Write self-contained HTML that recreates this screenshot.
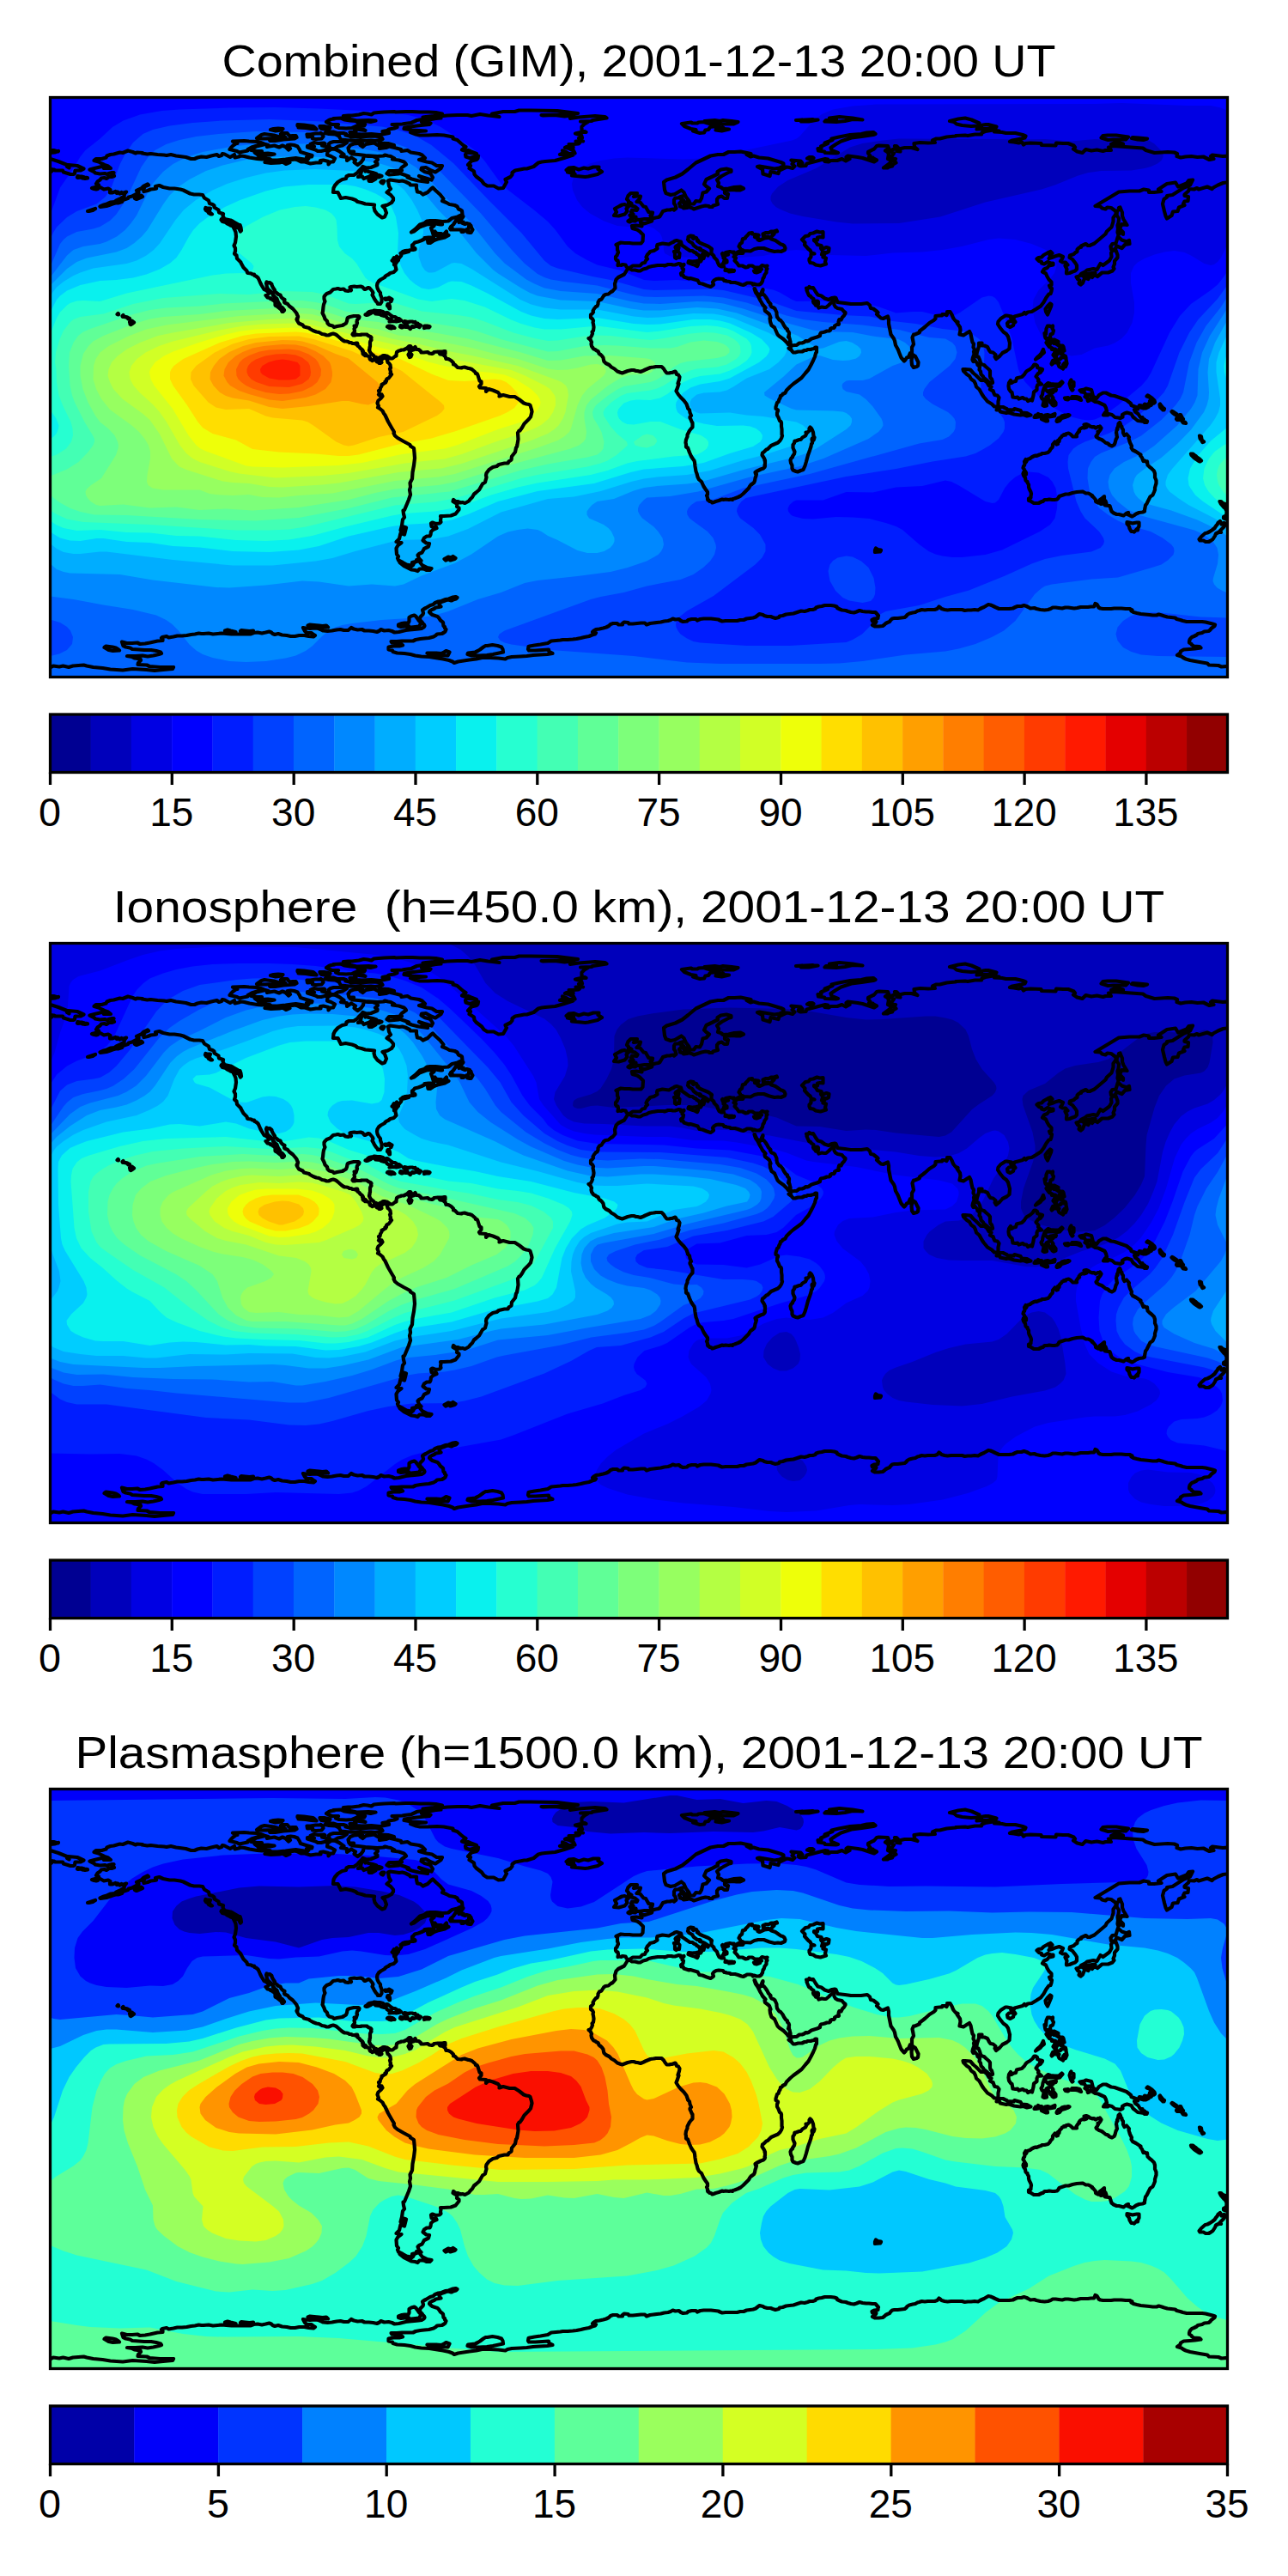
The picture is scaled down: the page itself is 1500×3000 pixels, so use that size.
<!DOCTYPE html>
<html><head><meta charset="utf-8"><title>TEC maps</title>
<style>
html,body{margin:0;padding:0;background:#fff}
svg{display:block}
text{font-family:"Liberation Sans",sans-serif;fill:#000}
.t{font-size:52px;white-space:pre}
.k{font-size:45.5px}
.c{fill:none;stroke:#000;stroke-width:4.2;stroke-linejoin:round;stroke-linecap:round}
.f{fill:none;stroke:#000;stroke-width:3.3;stroke-linejoin:miter}
.tk{stroke:#000;stroke-width:3.3;fill:none}
</style></head><body>
<svg width="1500" height="3000" viewBox="0 0 1500 3000">
<rect width="1500" height="3000" fill="#fff"/>
<defs>
<clipPath id="mc"><rect x="58.5" y="0" width="1371.0" height="675.0"/></clipPath>
<g id="coast" class="c">
<path d="M104.5 84l5.5-1.5 8.5-2 3 0-0.5 2 8 0-3-2.5-4.5-1.5-3-1.5-3.5-2-5.5-1.5 2.5-2 6.5 0 5-1.5 1-2 4-1.5 4-0.5 7-2 3.5 0.5 6-2.5 5.5 1.5 3.5 1.5 1.5-1 6.5 0.5-0.5 0.5 6 1 4-0.5 8 1 7.5 0.5 3 0.5 5-1 6 1.5 4 0.5 7.5 1 6 2 4 0 3.5-1.5 4.5-1 6 0.5 5.5-1.5 6.5-1.5 2.5 2 3-1 1-2 2.5 0.5 6.5 3.5 5-3 0.5 3.5 4.5-1 2-1 4.5 0.5 6 1.5 9 1.5 5.5 0.5 4-0.5 5 2-5.5 2 7 1 10-0.5 3.5-1 4 2.5 4.5-2-4-1.5 2.5-1.5 4.5 0 3-0.5 3.5 1 4 2 4 0 6.5 2 6.5-1 5.5 0-0.5-2.5 3.5-0.5 6 1.5 0 3.5 2.5-3 3 0 2-4-4.5-2.5-4.5-1.5 0.5-4 4.5-3 5 0.5 4 2 5.5 4-3.5 2 7 1 0 4 5-3.5 5 3-1.5 2.5 4 3 4-3 2.5-3.5 0.5-4 5.5 0.5 5.5 0 5 2 0.5 2-3 2.5 2.5 2 0 1.5-7.5 3-5.5 0.5-4-1.5-1.5 2-3.5 3.5-1 1.5-4.5 3-5.5 0-3 1.5-0.5 2.5-4.5 1-5 3-3.5 4-1.5 3-0.5 5 5.5 0 2 4 1.5 3 5.5-1 7.5 1.5 4 1.5 2.5 2 4.5 1 4.5 1.5 6 0.5 4.5 0.5-0.5 3 1 4 3 4 5.5 4 3-1 2-4.5-2-5.5-2.5-2.5 6-1.5 4.5-2.5 2-3 0-2.5-3-3.5-4.5-3 4.5-4-2-3.5-1-6 2.5-1 7 1 3.5 0.5 3.5-0.5 3.5 1 5 2.5 1 1.5 7 0 0 3.5 1 4.5 3.5 0.5 3 2.5 5.5-2.5 4-4 2-1.5 3.5 3.5 5 4.5 4 5-1.5 2.5 5 2 3.5 2 6 1 3 1.5 1.5 3 2.5 1 1.5 1 0.5 4.5-2.5 1-3 1.5-6.5 1.5-4.5 3.5-6.5 0.5-8.5-1-6 0-4 0.5-3 2.5-5 1.5-5.5 5.5-4.5 3.5 3-1 6.5-5 8-3 5.5-0.5 3.5 2-3.5 2.5 1.5 4 1 3.5 5 1.5 6.5-0.5 4-4.5 0 3 2.5 1.5-4.5 2.5-8.5 2-4 1.5-4.5 3-2.5 0-0.5-3.5 7-3-6 0-4.5 0.5 0.5 1-4 2-4 1.5-4 1-2 2.5-1 0.5 0 2.5 1.5 2 1.5 0-0.5-1.5 1 1 0 1-2.5 0.5-2 0-3 0.5-4 0.5-3 1 6-0.5 1 0.5-5.5 1.5-2.5 0 0-0.5-1.5 1 1.5 0-1 3-2.5 3-0.5-1-1 0-1-1.5 1 2 0.5 1 0.5 1.5-1.5 1.5-2 3-0.5-0.5 1.5-2-2-1.5-0.5-3.5-1 1.5 1 2.5-2.5-0.5 2.5 1.5 0 3.5 1.5 0 0 1.5 1 4-3 3-4 1-2.5 2-1.5 0.5-2 1.5-0.5 1-4.5 2.5-2.5 2-1.5 2.5-0.5 2.5 0.5 3 1.5 3 2 2.5 0 2 1.5 4 0 4.5-1.5 2.5-1 0-2 0-0.5-1.5-1.5-1.5-2-3-1.5-3-1-1.5 1-2.5-1-2-3-3.5-1.5-0.5-4 2-1-0.5-1.5-2-2.5-1-4.5 0.5-3-0.5-3.5 0.5-1.5 0.5 1 1 0 1.5 0.5 1-0.5 0.5-1.5-0.5-1.5 1-3-0.5-2.5-2-3.5 0.5-3-1-2.5 0.5-3 0.5-3.5 3.5-4 1.5-2 2-1 1.5 0 2.5 0.5 2 0.5 1-1.5 3.5-0.5 3-0.5 5-0.5 2 1 2 1 2 1 3 2.5 2.5 0.5 2.5 2 2 4 1 1.5 1.5 3.5-1 3-0.5 3-0.5 2-1 2.5-1.5 1-2.5 0.5-3 0.5-1 2.5-1 4.5-1 3 0 2.5 0 1 1-0.5 1.5-2 2-0.5 2.5 0.5 1-0.5 1.5-1 3-1-1-1 0 1 1.5-1 2 0.5 2.5-0.5 2-1 0.5-0.5 0.5-0.5 1 1 1 1.5 0 0.5 0 0.5-1 1.5 0 0 0.5 0.5 0 2 0 2 0 1-0.5 0.5 0 1 0 1.5 0 0.5 0 1 0 2 0 0 0.5 1.5 1 1 0.5 1.5 0.5 1 1 0 0.5-0.5 1 0.5 1.5-1 1-0.5 1.5 0 2 0 0.5 0 2 0 0.5-0.5 1 0 2-0.5 0.5 0 1 0.5 1 1 2 1.5 1.5 2 1.5 1 1.5 0 1 1.5 0 0.5-0.5 1.5 1 1.5 0 2-1 2-1 1-1 2.5 0 0 0.5 2 0 1.5 1 1.5 1 1.5 1 2 0 3-2.5 1.5-0.5 0-1 0.5-3.5 2.5-1.5 2.5-0.5 0-0.5 3 0 3-1.5 1.5-1 2-2 1.5 0 1 1.5-1 1 0 1-2 0.5 1 1.5 0 2-1.5 2.5 1.5 3 1.5-0.5 1-2.5-1.5-1.5 0-3 4.5-1.5-0.5-1.5 1.5-1.5 1.5 3 2.5 0 2.5 2 0.5 1.5 3 0 4.5-0.5 2 1.5 3 0.5 2-1 0.5-1 4.5-0.5 4.5 0-3 1.5 1 1.5 3.5 0.5 2.5 2 1 3 2 0 1.5 0.5 2.5 1.5 2.5 2.5 0 2 1.5 0 2 2 1.5 1.5 4.5 0.5 0.5-0.5 3-0.5 4.5 1.5 1 0 3 1 4 3.5 0.5 1.5 1.5 0 1 2 2 6.5 2 1 0 2.5-2.5 3 1 1.5 7 0.5 0 4 3-3 5 1.5 6 2.5 2 2.5-0.5 2 4.5-1.5 7.5 2 6 0 5.5 3.5 5 4 3 1 3 0.5 1.5 1 1.5 5 0.5 2.5-1.5 6-2 2.5-5.5 5.5-2.5 4.5-2.5 3.5-1 0-1.5 2.5 0.5 7.5-1 6-0.5 2.5-1 1.5-1 5-4 5-0.5 4-3 2-1 2-4 0-6.5 1.5-2.5 2-4.5 1-4.5 3-3 4-0.5 2.5 0.5 2.5-1 3.5-0.5 2-3 2-4 7-3.5 3-2.5 2-2 3.5-2.5 2.5-1.5 2-4.5 2.5-3-1-2 0.5-3.5-1.5-2.5 0-2.5-2-0.5 2 5 3-0.5 3 2.5 1.5 0 2-4 5-5.5 2-8 0.5-4 0 0.5 2-0.5 3 0.5 2-2 1.5-4 0.5-4-1.5-1.5 1 0.5 3.5 3 1.5 2-1.5 1 2-3.5 1.5-3 2.5-0.5 3.5-1 2-3.5 0-3 2-1.5 3 4 3 3.5 0.5-1 3.5-5 2.5-2.5 4.5-3.5 1.5-1.5 1.5 1.5 4 2.5 2.5-1.5-0.5-4-0.5 1 1.5-6 1.5-0.5 3.5-1.5 0-4.5-1-4.5-2.5-5-2.5-1-2.5 1-2-2-2.5-0.5-7 2-3.5 4-3-6-1 3.5-3.5 1.5-6.5 4.5 1.5 2-8-3-1-1 5-2.5-1 1.5-5.5 1-7 2-2.5-1-4-0.5-4 1.5-0.5 2.5-6 2.5-6 2-6-1-5.5 1-3.5-0.5-4.5 2.5-5 0.5-7.5 1.5-8 1-8.5-0.5-6.5-0.5-5-4-2.5-0.5-1.5-7.5-4-7-4-3-2.5-1.5-3 0.5-1.5-3-5-4-7-3.5-7.5-1.5-2-1.5-3-3-2.5-2.5-1.5 1-1.5-1.5-3.5 1-3 3-2.5 2-2.5-1-2-1 2-2.5-2 1-1-1-3.5 1.5-0.5 0.5-2.5 1.5-2.5 0-1.5 2-1 2.5-1.5-0.5-1 1.5-0.5 0-2 1-1 1.5-0.5 2-2.5 1.5-2-1.5-1 0.5-2-1-3.5 1-1-0.5-3.5-1.5-2-1.5-1-0.5-2 0.5-1-1-0.5-0.5-1-2-1-1.5 0-1 1.5-1.5 1-1 0 0 1 1.5 2-1 0.5-0.5 0.5-1.5 0-1-2-0.5 0.5-1 0-1-2-1.5 0-1-0.5-1.5 0-0.5 1-0.5-0.5-2-1-0.5-1 0.5-0.5-0.5-1-1-1-1.5-0.5-1.5-0.5 0-1-1-1 0 1-0.5 1-1-1-1-0.5-0.5-0.5 0-1.5 0.5-1-1-0.5 0.5-1-1-1-2-1.5-1-1.5-1.5-1-2-2 0.5-0.5 0.5 0.5 0.5 0-0.5-1.5-1.5 0-0.5 1-2-0.5-1.5 0-1.5-1-2 0-1.5-1-2-0.5-2 0-2-1-2-1.5-4.5-4-2-1.5-3-1-2 0.5-3.5 1.5-2 0-2.5-1-3-0.5-3.5-2-3-0.5-4-1.5-3.5-2-1-1-2-0.5-4-1-1.5-2-4.5-2-1.5-2.5-1-2 1 0-0.5-1.5 1-1 0-1-1-2-0.5-1.5-1.5-2-3-3.5-4-3-2-2.5-3.5-1.5-0.5-1 0.5-2.5-2-1-2-2-1-2.5-2-0.5-2.5-2-2-1.5 0-1.5-2-3-1.5-3 0-1-2.5-2-1.5 0.5-2-1-0.5 1.5 0.5 2 0.5 2.5 1 2 3 2.5 0.5 1 0.5 0 0.5 1.5 1 0 0.5 2.5 1.5 1 0.5 1 2.5 2 1.5 4 1 1.5 1 1.5 0.5 2.5 1.5 0 1.5 1.5 1.5 2 0 0.5-1.5 1.5-1 0-1-2.5-2.5-2-2.5-2-2-1 0-2.5-0.5-2.5-2-1-2.5-2-0.5 0.5-1-1-2.5-0.5-2-2.5 1.5 0 1.5-1.5 0.5-1.5-3-3-2.5-1-1.5-2.5-1.5-2.5-1.5-3-1.5-3.5-1-2-2.5-2-1.5-0.5-0.5-1.5-2 0-1.5-1-3.5-0.5-1-0.5-0.5-2-4-4-3-5.5 0-0.5-1.5-1.5-3-3-0.5-3.5-2.5-2 1-3 0-3.5-1.5-3 1.5-3.5 1-7-0.5-5-1.5-3.5-1-2 0.5-0.5 5.5 1 2 4 1-1-0.5-3.5-1-3-1 0-7-4-3-1.5-7-1.5-2-3.5 0.5-2.5-5-1.5-0.5-3-5-3 0-2-2-1.5-3.5-1-1-3.5-5-3-2-3.5-4-0.5-6 0-4.5-1-8-4-3.5-1-7-1-5.5 0-7.5-1.5-4.5-2-4.5 1 1 2.5-2 0.5-4.5 0.5-3.5 1.5-4.5 1-0.5-2.5 2-3.5 4-1.5-1-1-5 2.5-2.5 2.5-5.5 2.5 2.5 2-3.5 2.5-4 2-4 1-1 1.5-6 2-1 2-4.5 1.5-3 0-3.5 1-4 1.5-3 1-7 1-0.5-0.5 4.5-2 3.5-1 4.5-2 4.5-0.5 2-1.5 5.5-2.5 0.5-0.5 3-1.5 0.5-3 2-2.5-4.5 1.5-1-1-2 1.5-2.5-2-1 1.5-1.5-2-4 1.5-2.5 0 0-2 0.5-1.5-2.5-1.5-5 1-3.5-2-2.5-1 0-2-3-1.5 1.5-2.5 3-2 1.5-2 3.5-0.5 2.5 1 3-2 3 0 3-1-1-1.5-2-1 2.5-1.5-2 0-4 1-1.5 1-3-1-5.5 0.5-5.5-1-1.5-1.5-5-2.5zM573 19l13-2.5 13.5 0 5-1.5 13.5 0 31 0.5 24 3-7 1.5-15 0-20.5 0.5 2 0.5 13.5-0.5 11.5 1.5 7.5-1 3.5 1.5-4.5 2 10-1.5 19-1.5 11.5 1 2 1.5-16 2.5-2 1-12.5 0.5 9 0.5-4.5 2.5-3 3 0 4 5 2.5-6 0-6.5 1.5 7 2 1 3-4 0.5 5 3.5-8.5 0 4.5 2-1.5 1-5.5 0.5-5.5 0 5 3 0 1.5-7.5-1.5-2 1 5 1 5 2.5 1.5 3-7 0.5-2.5-1.5-5-2 1.5 2.5-4.5 2 10 0.5 5.5 0-10.5 3.5-10.5 3-11.5 1-4 0.5-4 1-5.5 4.5-8 2.5-3 0-5 1-5.5 1-3.5 2.5 0 2.5-2 2.5-6 3 1.5 3-2 3.5-2 3.5-5.5 0.5-5.5-3-7.5 0-4-2.5-2.5-3.5-6.5-5-2-2.5-0.5-3.5-5.5-3.5 1.5-3-3-1 4-4.5 6-1.5 1.5-1.5 0.5-3-4 1-2.5 0.5-3.5 1-4.5-1.5-0.5-2.5 1.5-2 4 0 7.5 1-6.5-2.5-3.5-1.5-4 0.5-3-1 4.5-3.5-2.5-1.5-3-2.5-4.5-4-5-1.5 0-2-10.5-2-8-0.5-10.5 0.5-9.5 0-4.5-1-6.5-2.5 10-1 8-0.5-16.5-1-9-1.5 0.5-1.5 14.5-2 14.5-1.5 1.5-1.5-10.5-1.5 3.5-1.5 13-2.5 6-0.5-2-2 9.5-1 11.5-0.5 12 0 4.5 1 10-2 9.5 1.5 5 0.5 8 1-9-2 0.5-1.5zM489 17l10.5 0 8 0.5 7.5 1.5-0.5 1-9.5 1.5-9 1-3.5 0.5 8.5 0-9.5 2.5-6 1-6.5 3-8 1-2.5 0.5-12 0.5 5.5 0.5-2.5 0.5 3 2-3.5 1.5-6 1-2 1.5-5.5 1 0.5 1 7 0 0 1-10.5 2-10-1-11.5 0.5-5.5-0.5-7.5 0-0.5-2 7-0.5-1.5-3 2 0 10.5 1.5-5.5-2.5-6-1 3-1.5 7-0.5 1-1.5-5.5-1.5-1.5-2 10.5 0 3 0.5 6-1.5-8.5-0.5-13.5 0.5-7-1.5-3-1.5-4.5-1-1-1.5 5.5-0.5 4.5 0 8-1 5.5-1.5 4.5 0.5 4.5 1 3-2 5-0.5 7-0.5 11.5-0.5 2 0.5 11.5-0.5 8 0 8.5 0.5zM422 53l-2.5 2.5 3 2 3.5-3 9.5-1.5 7 4-0.5 2.5 7.5-1 3.5-1.5 8.5 2 5.5 1.5 0.5 2 7-1 4 2.5 9.5 1.5 3.5 1.5 3.5 3.5-7 2 9 2.5 6 1 5.5 3.5 6.5 0-1.5 3-6.5 4.5-5-2-6-3.5-5 0.5-0.5 2 4 2.5 5.5 1.5 1.5 1 2.5 4-1.5 3-5-1.5-9.5-3 5.5 3.5 4 2.5 0.5 1-10.5-1.5-8-2-5-2 1.5-1-5.5-2-6-2 0 1-11 1-3-1.5 2.5-3 7 0 8-0.5-1.5-1.5 1.5-2 5-3.5-1-1.5-1.5-1.5-6-2-7.5-1 2.5-1-4.5-2.5-3-0.5-3.5-1-2 1-7 0.5-14-1-8-1-6.5-0.5-3-1.5 4-1.5-5.5 0-1-4 2.5-3.5 4-1.5 10-1zM441.5 54.5l0-1 2-0.5 8.5 0.5 7 2 0 1-4 0-4 0-4.5 0.5-1-0.5-4-2zM397 49l-1.5-2.5-0.5-1.5-4-2-8-0.5-4.5-1 1.5-1.5 8 0 4.5 1.5 7.5 0 3 1-0.5 1.5 4.5 1 2 1 5.5 0 5.5 0.5 6-1 8-0.5 6.5 0.5 4 1.5 1 1.5-2.5 1-6 1-5-0.5-11 0.5-8 0-6-0.5-10-1zM388.5 51.5l8 0 7.5 1-5.5 3.5-5 1-4 2.5-4.5 0-2-3.5 0-2 2-1.5 3.5-1zM366 57l-4.5-2.5 4.5-2 4.5 1 7-0.5 1 1-3.5 2 6 1.5-1 3.5-6 1.5-4 0-2.5-1.5-9.5-3 0-1.5 8 0.5zM337.5 45l3-0.5 4 0 1 2-2.5 1.5-13 1-9.5 1.5-6 0-0.5-1 8-2-17.5 0.5-5.5-0.5 5.5-4 3.5-1 11 1.5 6.5 2 7 0.5-5.5-4 3.5-1 4 0 1.5 2 1.5 1.5zM336 61l2-1.5-3-4 3.5-0.5 4 0.5 4 1.5 2.5 4 1 2.5 6.5 2 7 2-0.5 1.5-6 0.5 2.5 1.5-1.5 1.5-7-1-6.5-1-4.5 0.5-7.5 1-9.5 1-7 0-2-1.5-5.5-1-3.5 0-4.5-3 2.5-0.5 6-0.5 5.5 0.5 5-1-7.5-1-8 0.5-5.5 0-2-1.5 8.5-1.5-5.5 0-7-1 3.5-3 2.5-1.5 10.5-2.5 3.5 1-1.5 2 8.5-1.5 5.5 2 4-2 3.5 1.5 3.5 3.5zM276.5 53.5l-5.5-2.5 13.5-0.5 5.5 0.5 9.5 0.5 4 1 4 1.5-5 1-9.5 3-4.5 2.5 0 1.5-10 2-2.5-1.5-8.5-2 1.5-2 2.5-2.5 3.5-2.5 1.5 0zM422.5 31.5l-5.5 1-7 3-7 0.5-8-0.5-4-1.5 0-1.5 3-1-7 0-4.5-1.5-2.5-1.5 3-2 2.5-1 4-0.5-1.5-0.5 9-0.5 4.5 2 6.5 1 6.5 0.5 3 2.5 5 1.5zM328 38l-7 1-6-1.5 3.5-1 5.5-0.5 5.5 0.5-1.5 1.5zM373 42l0.5-0.5 2.5 2 0.5 2-2 2.5-6.5 0.5-4-0.5 0-2.5-6 0.5-0.5-3 4 0 6-1 5.5 0zM425 84l0.5 2 2-0.5 2 1 4.5 1 4.5 1.5 0 1.5 3 0 3 1-3.5 1.5-6-1-2.5-1.5-3.5 2-5.5 2-1.5-2.5-5 0.5 3-2 0.5-3 1.5-3.5 3 0zM437.5 95l-4.5 2.5-3 0-0.5-1 2.5-1.5 5.5 0zM445 97l1.5 0 1 0.5-1.5 2.5-1.5-0.5-1-1 1.5-1.5zM367 35.5l1.5 1.5-6-0.5-6.5-1-8.5-0.5 3.5-1-4.5-1 0-1.5 7.5 0.5 10.5 1.5 2.5 2zM377.5 33.5l7 1.5-1 1.5-5.5 0.5-3.5-0.5-1.5-1.5-0.5-1.5 5 0zM537 142l-2.5 3.5 2.5-1.5 2.5 1-1.5 1 3.5 1.5 2-1 3.5 1-1 3 2.5-1 0.5 2 1.5 2.5-2 3.5-1.5 0-2.5-0.5 1-3-1.5-0.5-4.5 3-2 0 2.5-2-3.5-0.5-4.5 0-7 0-1-1.5 2.5-1-1.5-1 3-2.5 4-6 2.5-2.5 3.5-1 1.5 0-0.5 1-2 2.5zM515 148l-2 0-5-1-3.5-2 1.5 0 5 1 4 1.5 0 0.5zM514 158.5l-1.5 1.5-1.5 0-5-1.5-1-1 1.5-1.5 1.5 2 2.5 0.5 3.5 0zM276.5 150.5l-2 0.5-6-2-1.5-1-3-1.5-1-1-4-1-1.5-2 0.5-1 4 1 2.5 0.5 3.5 0.5 1.5 1.5 1.5 1.5 4 2 1.5 2zM241 129l4 0-1.5 4 3.5 3-1.5 0-2.5-1.5-1-2-2-1-1-1.5 0.5-1.5 1.5 0.5zM162.5 117l-3.5 1.5-2-1-0.5-1.5 3.5-1.5 2-0.5 2.5 0 1.5 1.5-3.5 1.5zM114 106.5l-2 0.5-2.5-0.5-2.5-1 4-1 3 0.5 0 1.5zM90.5 91.5l2.5 0.5 2 0 3.5 1 3.5 0.5 0 0.5-3 0.5-3-0.5-1.5-1-3.5 0.5-1-0.5 0.5-1.5zM111 129.5l-3 2-4.5 1-1.5 0zM436 248l3.5 0.5 3 0 3.5 1 1.5 1.5 3.5-0.5 1.5 1 3 2.5 2.5 1.5 1.5 0 2 1 0 1 3 0 2.5 2-0.5 0.5-2.5 0.5-2.5 0.5-2.5-0.5-5.5 0.5 2.5-2-1.5-1-2.5-0.5-1.5-1-1-2.5-2 0.5-3.5-1-1.5-1-5-0.5-1-1 1-1-3.5 0-3 2-1.5 0-0.5 1-2 0.5-1.5-0.5 2-1 1-1.5 1.5-1 2-0.5 3-0.5 1-0.5zM476.5 261.5l0.5-0.5 3 0 2.5 1 1-0.5 0.5 1.5 2.5 0-0.5 1 2 0.5 2 1-1.5 2-2-1-1.5 0-1.5 0-0.5 0.5-1.5 0.5-1-1-1 0.5-1.5 2.5-1-0.5-0.5-1-2.5-0.5-1.5 0-2.5-0.5-2 1-2-1 0.5-1.5 3.5 0.5 3 0.5 1.5-1-2-1.5 0-1.5-2.5-1 1-1 2.5 0.5 3 0.5zM454 266l2.5 0.5 2 1 1 1-3 0-1 0.5-2-0.5-2.5-1.5 0.5-0.5 1.5-0.5 1 0zM497.5 266l2 0.5 1 0.5-1 1-3 0-2.5 0.5 0-2 0.5-0.5 3 0zM454 246l-0.5 0-1-2-1.5-1.5 0.5-2 1.5 0 1 3 0 2.5zM453 235l-4 0.5-0.5-1.5 2 0 2.5 0 0 1zM456.5 235l-1 2.5-0.5-0.5 0-2-2-1.5 0-0.5 3.5 2zM515.5 296l2-0.5 1 0 0 3-3.5 0.5-0.5-0.5 1-1 0-1.5zM488.5 540.5l1.5 2 2 2.5 5 2.5 5.5 1-2 2-3.5 0-2-1-2.5-0.5-4 0-2 2.5-3-1-4-0.5-5-2.5-4-2-5-4 3 0.5 5.5 2.5 5 1.5 2-1.5 1.5-3 3.5-1.5 2.5 0.5zM517.5 537.5l4.5-2.5 3 1 2.5-1.5 3 2-1 1-5 1.5-2-1.5-3.5 1.5-1.5-1.5zM153 264l-0.5 0.5-1-0.5 0-1-0.5-1.5 1-1-0.5-1 2 0.5 0.5 0.5 2 1.5-2 1.5-1 0.5zM151 258l-1.5 0-1-1 1.5 0 1 0.5 0 0.5zM145 255.5l-2 0-0.5-1 1-1 1 2zM138 252.5l0 0.5-1.5-0.5 1-1 0.5 0.5 0 0.5zM148.5 256l-0.5 0-2 0 0.5-0.5 2 0.5zM697.5 81l-1 2.5 4.5 3-5 3-11 2.5-3.5 0.5-5-0.5-10.5-1 3.5-2-8.5-2 7-0.5 0-1-8.5-1 3-2.5 5.5-0.5 6 2.5 6-2 5 1 6-2 6.5 0zM862.5 63l12 2.5-5 1 4.5 2.5 3.5-1 6.5 2 10.5 1 15 4.5 3 1.5 0 3-4.5 2-6 1-17.5-3-2.5 0.5 6 3 0.5 5.5 5 1.5 3 1 1-5 9 2 1-3.5 8.5-4 3.5 0.5 3.5 1 2.5-2.5-3-2.5 2-2.5-3-2 11 1 2 2.5-4.5 0.5 0 2 2.5 1 6-0.5 1-2.5 8-2 13.5-3.5 3 0.5-3.5 2.5 4.5 0.5 2.5-1.5 7.5 0 5.5-2 4.5 2.5 4.5-2.5-4-2 2-1.5 11.5 1.5 5.5 1 13.5 4.5 3-2-4-2-0.5-1-4.5-0.5 1.5-1.5-2.5-3 0-1.5 7-3.5 3-3.5 2.5-0.5 10.5 0.5 1 2.5-4 3 2.5 1.5 1.5 2.5-1 5.5 4.5 2-2 3-7.5 5.5 4.5 0 1.5-1 4-1 1-2 3.5-2-2-2 1.5-2.5-4.5-0.5-0.5-2 3-4-5-3 7-2.5-1-3 2 0 2 2-1.5 4 4 0.5-1.5-3 6.5-1.5 8 0 7 2-3.5-3-0.5-4 7-1 9.5 0.5 8-0.5-3-2.5 4.5-2 4 0 8-2 10-1 1-0.5 10.5-0.5 3 0.5 8.5-1.5 7.5 0 0.5-2 4-1.5 9.5-1.5 6.5 1-5.5 1 9 0.5 4.5 1 11 0 8.5 2 3.5 1.5-1 2-4 1-10.5 2-3 1.5 5 0.5 5.5 1 3.5-1 2 3 2-1.5 6-0.5 12.5 0.5 0.5 2 16.5 0.5 0.5-3 8 0.5 6 0 6.5 2.5 1.5 2-2 2 4.5 3 6 1.5 4-4 6.5 1.5 6.5-1 7 1.5 3-1 6.5 0-3-3.5 5.5-1.5 34.5 2.5 3.5 2.5 10 3 15.5-1 7.5 0.5 3.5 1.5-0.5 3 4.5 1.5 5.5-1 7-0.5 7 1 7-0.5 7 3.5 5-1-3.5-3 2-1.5 12 1.5 8-0.5 11.5 2 5.5 1.5 0 15.5-5 1.5-5 0 3 2 2.5 3 2 1 0.5 1.5-1.5 1-6.5-0.5-11 2.5-3.5 0.5-6 2.5-5.5 3-1.5 1.5-5.5-2.5-10 3-2-1.5-3.5 1.5-5.5-0.5-1 2.5-4.5 4 0 1.5 4.5 1-0.5 5-4 0.5-1.5 3 1.5 1.5-6.5 2.5-1.5 4.5-5.5 0.5-1.5 4.5-5.5 3.5-1.5-3-1.5-5.5-2-8.5 1.5-5.5 3.5-2.5 0-1.5 6.5-1 7-4.5 6.5-4 7-3 3-6-4.5 0.5-2.5 3.5-10 4-3-5-10 1.5-10 6.5 3.5 2.5-8.5 1-6 0 0-2.5-6-1-5 2-11.5 0-12.5 1-12.5 7.5-15 9 6 0.5 2 2 4 1 2-2 4.5 0.5 5.5 4 0 3.5-3 4 0 4.5-2 6.5-5.5 5-1.5 3-13 11-5.5 2.5-2 0-2.5-2-5.5 2.5 0 1.5-1.5 0-2 1.5-1 1 0 2.5-2 1-2 2-4.5 1.5-0.5 2.5 3.5 2 3.5 4.5 1.5 2.5 0 4.5-2 2-3 1-3.5 1.5-3.5 0.5 0-2 0.5-3-2-4 3-1-2.5-3-3.5 0-2.5-1.5 2-2.5 1-2.5-4.5-2-5 1.5-3.5 1.5-3.5 1 2-2-1-1.5 3-2.5-2-2-3.5 1.5-4.5 2.5-2.5 2.5-3.5 0.5-2 1.5 2.5 2.5 3 1 0 1.5 3 1 4-2.5 3.5 1.5 3 0 0 2-5 1-2 2.5-3.5 1.5-2 3 4 2 1.5 3.5 2 3.5 3 3 0 3.5-2.5 0.5 1 2.5 2 1-0.5 3-1 3-2 0.5-3 4-3 5.5-3.5 4.5-5.5 3.5-5 3-4.5 0.5-2.5 2-1.5-1.5-2 2-5.5 1.5-4 1-1.5 4-2 0-1-2.5 1-1.5-5.5-1-1.5 0-5.5 3.5-3 3.5-0.5 3 2.5 4 4 5 3.5 2.5 2 3 2 7.5-0.5 6.5-3 2.5-5 2.5-3 3.5-4.5 3.5-1.5-2.5 1-2.5-3-2.5-3-0.5-1.5-2-2-4-3.5-1.5-3.5 0 0.5-3-3.5 0 0 4-2 6-1 6 2.5 0 1.5 3.5 1 3.5 1.5 2 2.5 0.5 2 2 3.5 3 1.5 2 0 3 0 3 0.5 2 1.5 1.5 1 3.5 0 1-2.5 0.5-3.5-3-4.5-3.5-0.5-1.5-2.5-2.5-0.5-3.5-1.5-2 0.5-2.5-1-2-1.5-1-0.5-2-2-2.5-2-2-0.5 2.5-1-2 0.5-2.5 1.5-4-0.5-3 1-2.5-1.5-2.5 0.5-4-1.5-2-1-4.5-1-5-1.5-3-2.5 1.5-4.5 3-2-0.5-2.5-0.5 1-5-0.5-3.5-3.5-5 1-1-2.5-1-2.5-3-1-2-0.5-1.5-1-2-1.5-2.5-3.5 0 0.5 1.5-1 2.5-2-1-3 0-0.5 1.5-2.5 0-5 0.5 0 3-2 2-5 3-5 4.5-2.5 2-4 3 0 1.5-2 1-3.5 1.5-1.5 0-1.5 3.5 1 5 0.5 3-2 3.5 0 6.5-2 0-1.5 3.5 1 1-3.5 1-1.5 2.5-1.5 1.5-3.5-4-2-5-1.5-4-1-2-2-3.5-1-5-1-2.5-3.5-5-1.5-7.5-1-5 0-4.5-1-4-5.5 2.5-2.5-0.5-5-4.5 1.5-2-1-1-4.5-3.5-3-0.5-1-3.5-3-2.5-7 1-6.5 0-5.5 0-7-1-4.5-0.5-4-0.5-2-5-1.5-0.5-3 0.5-4 2-4.5-1.5-4-3-4-1-2.5-3.5-3-5-2 0.5-2.5-1.5-1 1.5-2.5 0 1 1.5-0.5 1 1 2.5 1.5 3.5 2 1 1 1.5 2.5 1.5 0 1.5-0.5 1.5 0.5 1.5 1 1 1 1 0.5 1-0.5-3 1-2 1.5 0 1 1 0 2.5-1 2 1 1.5 0.5 1 3.5-1 3 0.5 2 0 3-2.5 2.5-2.5 3-2.5 0.5 1.5 0.5 3 1.5 2.5 2.5 1.5 2.5 0.5 2.5 0.5 2 2.5 2 1.5 0 1-1.5 2.5-2 2-1.5 3-2-0.5-0.5 1-0.5 2 0.5 2.5-0.5 0.5-2 0-2.5 1.5 0 1.5-1 1-2 0-2 1 0 1.5-1.5 1-2.5 0-2.5 1-2 0.5-2.5 0.5-1 2 0 1.5-3.5 1.5-6.5 2-3.5 2.5-1.5 0.5-1.5-0.5-2 1.5-2.5 1-3 0-2 1.5-1.5 1-2 0-4 0.5-1-2.5 0-2-0.5-1.5-0.5-2.5-1.5-1.5 1-0.5-0.5-1.5 0.5-1 0-1.5-0.5-1.5-1.5-1.5 0-1.5-2-1.5-2-3-1.5-3-2.5-3-1.5-0.5-2.5-3.5-0.5-3 0-2-2-4.5-2-1.5-2-0.5-1.5-2.5 0.5-1-1.5-1.5-1-1-1.5-3-2-3-2-2.5-2 0 0.5-2.5 0-1 0.5-1.5 0-1-1 2-1 2.5-1 2-1 1-1-1.5-2-1.5-2.5-5.5-0.5 0 1.5 4.5 2.5 3.5 3 6 1.5 2.5 1 2 3.5 4-1 1 0.5 2.5 4.5 3.5 0.5 0.5 1.5 4-1 0.5 0.5 4 1.5 4.5 1.5 1 2 1.5 2 4.5 1.5 3.5 2 2 5 3.5 2.5 2.5 2 2 1 1.5 2 1 1 1 0 2-2.5 0.5 2 1.5 1 0.5 1 1.5 1.5 1.5 2 0 3.5-1 4.5 0 3-1.5 2 0 1.5-1 2 0 1.5 0 1.5-0.5 2.5-0.5 1.5-1.5 1.5 0 0 1 0 2.5 0 2-1 1.5-1 4-2 4.5-2.5 5-3 5.5-3.5 4-4.5 5.5-4 3-5.5 4-3.5 3-4.5 4.5-1 2-0.5 1-3 1.5-1 1.5-1.5 0.5-0.5 2.5-1 1.5-1 3-1.5 1-1.5 5 0 2 2.5 1.5 0 1-1 2 0 1.5 0 1.5 1.5 2.5 1.5 4 1.5 1 0.5 1.5 0 4 0.5 3.5 0 6 0.5 1.5-1 3-1.5 2.5-2.5 2.5-3.5 1.5-4.5 2-4 4-1.5 0.5-3 3-1.5 1-0.5 2.5 2 3 1 2 0 1.5 0.5-0.5 0 4-0.5 2 0.5 0.5-0.5 1.5-1.5 1.5-3 1-5 2.5-1.5 1 0.5 2 1 0-0.5 2-1 3-0.5 3-1 2-2.5 2-1 0.5-1.5 2-1 2-2.5 2.5-4 4-3 2.5-3 1.5-4 1.5-2 0.5-0.5 1-2-0.5-2 0.5-4-0.5-2.5 0.5-1.5-0.5-4 1.5-3.5 1-2.5 1-1.5 0.5-1.5-1.5-1.5 0-1.5-2-0.5 0.5-0.5-1 0-2-1-2.5 1-1 0-3-2.5-3.5-2-3-2.5-5.5-3-2.5-1.5-3-1-4-1-2.5-1-6-0.5-4.5-0.5-2-1.5-2-2-3-2-4.5-2-5.5-2-1 0-3-0.5-2 0.5-3.5 1.5-3.5 0-2 1.5-3 1-2 2-2.5 1.5-1.5 0-3 0-2-1-1.5-1-2.5-1-2 0-1 1.5-1.5-1.5-3.5-0.5-3-2-2 0-1-0.5-1-1-3-3-4-4-4-2.5-3-2.5-4 0.5-1.5 0.5-1 1-3 1-3-1-0.5 1.5-4.5 0.5-3-1.5-2.5-2-0.5-0.5-2-1-0.5 0-1-4 1.5-1.5 0-1.5 0.5-3 0-2-2.5-1.5-2.5-2.5-2.5-3 0-3.5 0-3 0.5-3.5 0.5-6 2.5-2 1-3.5 1.5-3.5-1-1.5 0-3-1-2.5 0-4.5 1-2.5 1-4 1.5-0.5-0.5-1 0-4-1.5-3.5-3-3.5-2-2.5-2.5-1-0.5-3-1.5-2-2-0.5-1.5-0.5-3-1.5-2-1.5-1.5-1-0.5-1-1-0.5-1.5-0.5-1-1.5-0.5-2-1.5-1.5-0.5-1-1 0-0.5-1-1-0.5-1-0.5-2.5 0.5-2-1.5-3-2-1.5 2-0.5 1.5-2.5 1-2.5-0.5-2 1.5-1.5 0.5-4-0.5-3.5-0.5-2 0.5-2-1-2-2-1.5 0-1.5 0-2 1.5-1 1.5-2-0.5-1.5 1.5-2.5 2-2.5 1.5-0.5 1-2.5 0-2 1.5-2.5 2.5-1 2.5-4 2-1.5 3.5-0.5 3-2.5 2-1 3-3.5-0.5-5 1-3 0.5-2 2.5-2.5 4-2 3-1.5 2.5-4 1.5-2.5 2.5 0 2.5 1.5 3.5 0 4 1 2 0 3.5-2 4-1 2.5-1.5 4-1 6.5-1 6.5 0 1.5 0.5 4-1.5 4 0 1.5 0.5 2.5 0 4.5-1.5 2.5 0.5 0 2 3.5-1.5 0 0.5-2 2 0 2 1.5 1-0.5 3-2.5 2 0.5 2 2 0 1 2 1.5 0.5 4.5 1.5 1.5-0.5 3.5 1 5 1.5 2 3.5 3.5 0.5 5 2 4.5 1.5 1.5-1 2-1.5-1-3 1.5-2 2.5-1.5 3-0.5 5 0.5 1.5 2 1.5 0 1 0.5 4 0.5 1 1 5 0 3.5 1 4 1.5 2 0.5 3-1.5 1.5-1 3.5 0 2.5 0.5 1 1.5 1-1 3 1 3 0 2-1 1-1 0-0.5 1-1.5 0.5-3 0.5-1 0.5 0 1-3.5 2-2.5 0-3 1-1.5-1.5-2 1.5-1.5-2.5 0.5-3.5-1-2.5 2.5-6 0-3-2-4 0-1 1.5-2.5 0.5-4-2-4 0-2.5-3.5-2.5-2.5 1.5-3-2.5-1.5 4.5-4 6 0 1.5-3 7.5 0.5 4.5-2.5 4.5-1 6.5 0 6.5 2.5 6 1.5 4-0.5 3.5 0.5 4.5-2 0.5-2-1-2.5-2-1.5-2-0.5-1.5-1-5-3.5-4.5-1.5-3-2 2.5-0.5 3.5-3.5-2.5-1.5 6-1.5-0.5-1-3 1-3.5 0-2.5 1.5-3.5 0-3.5 1.5 0.5 2.5 2 1 3.5-0.5-0.5 1.5-4 0.5-5.5 2.5-2-1 0.5-1.5-4-1.5 0.5-0.5 4-1.5-1-0.5-6.5-1 0-1.5-3.5 0.5-1.5 2-3 3 0 1-2 0.5-1 0-1 4.5-2 1.5-1.5 3 1.5 2 0.5 1.5 3 1-0.5 1-4.5 0.5-2 1-3 2-1.5-1.5 0.5-1-2.5 0-2-0.5-5 1 3 2.5-2 0.5-2 0-2.5-2-0.5 0.5 1 2.5 2 2-1.5 0.5 2 2 2 1 0 2-3.5-1 1 2-2.5 0.5 1.5 3.5-2.5 0-3-1.5-1.5-3-1-3-1.5-1.5-2-2 0-1.5-0.5 0-0.5-1-2-1.5 0-1.5 0-2.5 0.5-1.5-0.5-0.5-1-0.5-1-1-1.5-1-3.5-1.5-2.5-1-3.5-1.5-3.5-2.5 1-0.5-1.5-1.5-0.5-1.5-2.5-0.5-1 1.5-1-1 0-1.5 1-0.5-3-0.5-3 1.5 0 2-0.5 1 1.5 2 3.5 2 2 3 4 3 3 0 1 1-1 1 3.5 1 3 1.5 3 2 0.5 0.5-0.5 1.5-2.5-2-3-0.5-2 2.5 3 1.5-0.5 2-1.5 0-2 3.5-2 0.5 0-1.5 1-2 1-1-1.5-2-1.5-2-1.5-0.5-1-1.5-2.5-1-1.5-1.5-3 0-3-2-3.5-2.5-3-2-1-4-2-0.5-3-1-2 0.5-2 1.5-1.5 0.5-3.5 2-7.5-1-6 1.5-0.5 2 0.5 2.5-4 2.5-4.5 1-0.5 1-2.5 2.5-1.5 3 1.5 2-2 2-1 2.5-3 0.5-2.5 3-5 0-3.5 0-2.5 1.5-1.5 1.5-2-0.5-1.5-1.5-1-2-3.5-0.5-1.5 1-2-0.5-2 0.5 0.5-3-0.5-2.5-1.5-0.5-1-1.5 0-2.5 1.5-1.5 0.5-1.5 1-2-0.5-2-0.5-1 0-1.5 0-3-1.5-1.5 5.5-2.5 4.5 0.5 5.5 0 4 0.5 3 0 6.5 0 2-2.5 0.5-7.5-4-4-3-2-5.5-1.5-0.5-3 5-0.5 6.5 1-1.5-4.5 4 1.5 9-3 1-3 3.5-1 3-0.5 2-1 3.5-6 5-1.5 3.5 0 0.5-0.5 3.5-0.5 0.5 1 2.5-2-0.5-1.5-0.5-2-1.5-2 0-4 0.5-1 1-1.5 3.5 0 1.5-1 3-1 0 2-1.5 1 0.5 1 2.5 0.5-1 1.5-1.5 0-2.5 2.5 1 2 0 1.5 4 1 0 1 4-0.5 2-1 4.5 1.5 1.5 1 3-1 6-2 4.5-1 4 0.5 0.5 1 3.5 0 1-1.5 5.5-1.5-1-3 0-3 2-2.5 3.5-1 3 2.5 3.5 0 0.5-3 0.5-2-1.5 0.5-2.5-1.5 0-2.5 4.5-1 5-0.5 4 0.5 4 0 4.5-2-4-2-7 0.5-6.5 1.5-6.5 0.5-2.5-2-3.5-1 1-4-2-3.5 2-2 3.5-2.5 8.5-4.5 2.5-0.5 0-2-5.5-1.5-6.5 1-4 2.5 0.5 2.5-6 3-7.5 3.5-2.5 5.5 2.5 2.5 3.5 2.5-3.5 4-4 1-1.5 6.5-2 3.5-4.5-0.5-2.5 3.5-4.5 0-1-3.5-3.5-4.5-2.5-5.5-3-2.5-7.5 4.5-5 1-5.5-2-1.5-4-1-9 3.5-2.5 10-3 8-4 7-5.5 9-7.5 6.5-3 10.5-5 8.5-1.5 6.5 0 6-3 7 0 7-0.5zM58.5 71.5l9.5 3 10 4 0 2 2.5 1.5-1-3.5 10.5 1 7.5 3.5-4 2-6 0-0.5 3.5-1.5 1-3.5 0-3-1-5-1.5-1-2-3.5 0-5 0-2-1-3.5-0.5 2 1.5-2.5 2M943.5 158.5l3.5-0.5 4.5-2 3 1 4-0.5 0 6.5-3.5-0.5-3 0.5 0 3-4-0.5 0 1 2 1.5 2 3.5 4.5 1 0.5 1.5-1 1.5 0.5 1 1.5-0.5 4.5-1.5 3 1-0.5 4-3 1.5-4-1.5-1 3.5 3 0-1.5 3 3.5 1-1 4.5 1 2.5-6.5 2-5.5-1-3-2-3.5-0.5-1-2.5 0-2 1-1 1-1.5 0-3 4-0.5-1.5-0.5-2-0.5-1.5-3-2-1.5-4.5-5 0.5-2.5-3.5-3.5 4-4 3.5-0.5 2-2.5zM742 111.5l-4 4 4-0.5 4 0-1 3-3.5 3.5 4 0.5 4 5 2.5 0.5 2.5 4.5 1 1.5 4.5 0.5-0.5 2.5-2 1 2 2-3.5 2-5.5 0-6.5 1-2-0.5-2.5 2-3.5-0.5-2.5 1.5-2-1 5.5-4 3.5-1-6-0.5-1-1.5 4-1-2.5-2.5 1-2.5 5.5 0.5 1-2-3-2.5-4.5-1-1-1 1.5-1.5-1.5-1-2 1.5 0-3.5-2-2 1.5-4 3-3 3 0 4.5 0zM729.5 129.5l1 3-3 3.5-7 2-5.5-0.5 3-4-2-4 5.5-3 3-1.5 3-0.5 4.5 2.5-2.5 2.5zM812 30l1.5-1 6-0.5 4.5 1.5 13 3-10 1.5-2 3-3.5 0.5-1.5 3-5 0.5-8-2.5 3.5-1.5-6-1-7.5-3-3-3 10.5-1.5 2 1 5.5 0zM859.5 28.5l-5.5 2.5-11.5 0-11.5-0.5-0.5-1-5.5 0-4.5-2 12-1 6 1 3.5-1 10 1 7.5 1zM849 37l-8.5 2-7-1 3-1-2.5-1.5 8-0.5 1.5 1.5 5.5 0.5zM952.5 59.5l4-0.5-0.5-2 8-3.5-3.5-0.5 9-3.5-1-1.5 8.5-2 13-2.5 13-1 6.5-1.5 7.5-0.5 2.5 2-2.5 1-13.5 2-12 1.5-12 4-6 3.5-6 4 1 3 7.5 3-2.5 0.5-12.5-0.5-1-1.5-7-1-0.5-2.5zM946 69.5l1.5 1-4 1.5-3.5-1 2.5-1.5 3.5 0zM933 28l9 0 10.5-2-9 0 3.5-0.5-9.5 0.5-10.5 0.5 7.5-0.5-1.5 2zM960.5 28l13.5 0.5 10-1 9-2 11.5 0.5-11.5-2-15.5-1.5-11.5 1.5 8 1.5-12 1-1.5 1.5zM1139.5 33l-8.5 0.5-10.5-1-6.5-1.5-3-2.5-5-1 10-2.5 8-1 7.5 2 9 4-1 3zM1159.5 35.5l-22 1.5 7-5 3.5-0.5 3 0 9.5 2.5-1 1.5zM1290 44l10 0 14 2-3 3-14.5 0-6 0.5-8-2.5 2-2.5 5.5-0.5zM1326 47l10 1-4.5 1.5-6.5-0.5-7-1.5 1-1 7 0.5zM1294 54.5l3.5-1.5 5-0.5 5.5 1.5 0 1-5.5 0-8-0.5-0.5 0zM1449 61.5l-5 2 0.5 1 4.5 0zM58.5 64.5l5-0.5 4.5-1.5-0.5 0.5-5-1.5-4 0M1308.5 142l4 6.5-6-1-2.5 5.5 4 4 0 2.5-3-2.5-2.5 3-1-3 0.5-4-0.5-4 1-3 0.5-5-2.5-4 0.5-5 3.5-2-1.5-1.5 1.5-0.5 1 2.5 1.5 3.5 0 4 1.5 4zM1309.5 167l2.5 1 3-1.5 0.5 4-5.5 1-3.5 4-6-2.5-2 4-4.5 0-0.5-3.5 2-3 4-0.5 1.5-5 1-3 4.5 4 3 1zM1298 194l-1.5 3.5 1 2-2 2.5-5 2-7 0-5.5 4.5-2.5-1.5 0-3-7 1-4.5 1.5-4.5 0.5 4 2.5-2.5 6.5-2.5 2-2-1.5 1-3.5-2.5-1.5-1.5-2.5 3.5-1 2-2.5 4-2 3-2.5 7.5-1.5 4 1 4-7 3 2 5.5-4 2-1.5 2.5-4.5-0.5-4.5 1.5-2.5 4-0.5 2 5.5 0 3-3.5 4 0 3.5zM1273.5 206l0.5 1-2 2.5-1.5-1.5-2 1-1 2.5-2.5-1 0-2 2-2.5 2 0.5 2-1.5 2.5 1zM1224 243.5l-2.5 6-1.5 3.5-2-3.5-0.5-3 2.5-3.5 3-3 1.5 1-0.5 2.5zM1180 265.5l-3.5 2-3-1.5-0.5-3 2-2 4.5-1 2 0 1 1.5-2 1.5-0.5 2.5zM1069.5 308.5l-0.5 4-1.5 1-3.5 1-2-3-0.5-5.5 1.5-6.5 3 2 1.5 3 2 4zM945 385.5l1 2 1 2.5 0.5 4.5 1 1.5-0.5 2-0.5 1-1.5-2-0.5 1 0.5 3 0 1.5-1 1-0.5 3-1.5 4.5-2 5.5-2 7.5-1.5 5-2 4.5-3 1-3.5 1.5-2-0.5-3.5-1.5-1-2 0-3.5-1.5-3-0.5-3 1-2.5 1.5-1 0-1 2-3 0.5-2.5-1-2-1-2.5 0-3.5 1.5-2 0.5-2.5 1.5 0 2.5-1 1.5-0.5 1.5 0 2-2.5 3.5-2 1-2-0.5-2 1.5 0.5 2.5-2.5 0-2.5 1-1.5 1.5 1.5zM813.5 190l-1.5 3 1 1.5-1 2-3-1.5-2-0.5-5.5-2 0.5-2 4.5 0.5 4-0.5 3-0.5zM789 178.5l2.5 3-0.5 5-2-0.5-1.5 1.5-1.5-1 0-5-1-2 2.5 0 1.5-1zM790.5 175l-1 3-2-1-1-2.5 1-1.5 2.5-1.5 0.5 3.5zM845 200l2.5 1 3 0 2.5 0 0 1 2-0.5-0.5 1-5.5 0.5 0-1-4.5-0.5 0.5-1.5zM880 202l0.5 0 0.5-1 2.5 0 3.5-1-2.5 1.5 0.5 1-4 1.5-2-0.5-1-1.5 2 0zM801.5 121l1 2-2 3-4-2-0.5-1.5 5.5-1.5zM1308 390.5l1.5 3 2.5-1.5 3 3.5-0.5 1.5 1 3.5 0.5 1.5 2 4-0.5 2 1.5 2.5 4 2 3 2 2.5 1.5-0.5 1 2 2.5 1.5 4 2-0.5 1.5 1.5 1-0.5 0.5 4 2.5 2.5 2 1.5 3 3 1 3 0 2.5 0 2 1.5 3.5 0 3.5-0.5 1.5-1 3.5 0 2.5-1 2.5-1.5 3.5-3 2-1.5 3-1 2-1.5 3-1.5 2-0.5 3-0.5 2.5 0 1.5-2.5 1-4 0.5-3.5 1.5-2 1.5-2.5 1.5-3-1.5-2.5-1 1-2-2.5 1-3 2.5-3.5-1-2-0.5-2.5 0-3.5-1.5-2.5-2-1-3-1-3.5-1.5 0-4-0.5 1.5-2-1-3-2 3-3.5 0.5 2-2 0.5-2.5 1.5-1.5 0-3-3.5 3-2 1.5-1.5 3-3-1.5 0-2-2.5-3-2-1.5 0.5-0.5-4.5-2.5-3 0-3.5-2-7 0.5-5 1-4.5 1.5-3.5 0-4.5 1.5-3 1-1 2-1.5 1.5-3 0.5-2.5 0-3.5-0.5-2.5 0.5-3 0-2 2-1 0-2 1-2 1-3 0-2.5 0-4-2.5-2-0.5 0-2.5 2-0.5 0.5-0.5 0-1.5 0.5-3-0.5-2-2-4-0.5-2 0-2.5-1.5-2.5 0-1-2-1.5-0.5-3-2-3-0.5-2 1.5 2-1-3.5 1.5 1 1.5 1.5 0-2-2-3-0.5-1.5-1-1 0.5-2 1-1 0.5-2-0.5-2.5 1.5-2.5 0.5 3 1.5-3 3-1 2-1.5 3-1.5 1.5-0.5 1 0.5 3.5-1.5 2-0.5 0.5-0.5 1-0.5 2.5 0 4-1 2-2 1-2 2-2 0.5-1.5 0-2 2.5-3 2 3 1.5-0.5-1.5-2 1.5-2 1.5 1 0.5-3 2-2 1-1.5 2-0.5 0-1 2 0.5 0-1 1.5-0.5 2-0.5 2.5 1.5 2.5 2.5 2.5 0 2 0-0.5-2 2-3 1.5-1-0.5-1 1.5-2 2.5-1.5 2 0.5 3-1 0-2-3-1 2.5-0.5 2.5 1 2 1.5 3 1 1.5-0.5 2 1.5 2.5-1.5 1.5 0.5 1-1 1.5 2-1 2-1.5 2-1.5 0 0.5 1.5-1 2-1.5 2 0.5 1 3 2 3 1 2 1.5 3 2.5 1 0 2 1 0.5 1 3.5 1.5 2.5-1.5 1-2 0.5-2 0.5-2 1.5-3-0.5-2 0-1-0.5-2 0.5-3 1-1-0.5-1 1-2 0.5-2.5 0-1 1.5-1.5 1 2 0.5 2.5 1 0.5 0 1.5 1.5 2 0 2 0 1.5zM1315 495l4 1 2-0.5 3-0.5 2.5 0 0 4.5-1 1.5-0.5 3-1.5-1-2.5 3-1-0.5-2.5 0-2-3.5-0.5-2.5-2.5-3 0-2 2.5 0.5zM1422 470.5l2 2 3 1 1 3.5 3 4 0-2.5 1.5 1 0.5 3 3.5 1 2.5 0.5 2-1.5 2 0.5-1 3.5-1 2-3 0-1 1 0.5 2-0.5 0.5-1.5 2-2 3-3 1.5-0.5-1-2-1 2.5-3-1.5-2-4-1.5 0-1.5 3-1.5 0.5-3 0-2.5-1.5-2.5 0-0.5-2-1.5-3-3.5-1.5-3 1.5 0zM1421 493.5l1 2 0.5 1.5 3-1.5 1 1.5 0 1.5-1.5 2-2.5 2.5-2 2 1.5 1.5-3 0-3 1.5-1 2.5-2.5 4-3 2-2 1-3.5 0-2.5-1.5-4 0-1-1.5 2.5-3 4.5-4 2.5-0.5 3-1.5 3-2 2.5-2 2-3 1-1 1-2 2.5-2zM1271.5 342l1.5 6 4 2.5 3-4 4.5-2.5 3.5 0 3 1.5 3 1.5 4 0.5 7 2.5 7 2.5 2.5 2 2.5 2 0.5 2 6.5 2.5 1 2-4 0.5 1 2.5 3.5 2.5 2.5 4 2.5 0-0.5 1.5 3 1-1 0.5 4 1.5-0.5 1.5-2.5 0-1-1-3-0.5-4-0.5-3-2.5-2.5-2-2-3.5-5-1.5-3 1-2.5 1.5 0.5 2.5-3 1.5-2-0.5-4-0.5-3.5-3-4-1-1 1.5-5 0 2-3 2-1.5-1-4-1.5-3-7.5-3.5-3.5-0.5-5.5-3.5-1.5 2-1.5 0.5-0.5-1.5 0-1.5-3-2 4-1.5 3 0-0.5-1-5.5 0-1.5-2.5-3.5-0.5-2-2 5.5-1 2-1 6 1.5 0.5 1.5zM1343 351.5l1.5 1.5 0.5 2-1 1-1-2.5-0.5-1.5-2-1-2-2-3-1 1-1 2 1 1.5 1 1.5 1 1.5 1.5zM1338 360l-2 1-2 1-2 0-3.5-1-2-1.5 0.5-1 3 0.5 2.5 0 0.5-2 0.5 0 0.5 2 2-0.5 1-1.5 2.5-1-0.5-2.5 2 0 1 0.5 0 2.5-1.5 2-2 0.5-0.5 1zM1351.5 358l1 1 2 2.5 1.5 1-0.5 1.5-1 0-1.5-1.5-2-2-0.5-3 0.5-0.5 0.5 1zM1370 368.5l1 1 0.5 1-3.5-1.5-2-1.5-1.5-1.5 0.5-0.5 2 1 3 2zM1375 375.5l-1.5 0-2.5 0-1-1 0.5-1.5 2.5 1 1 0.5 1 1zM1378 374.5l-0.5 0.5-3-3-0.5-2.5 1 0 1.5 3 1.5 2zM1380 378l1 1.5-3-0.5-1.5-2 2.5 1 1 0zM1399.5 399l2.5 2-1.5 0.5-1-1.5 0-1zM1398 398l-0.5-1-0.5-3 2 1 0.5 3-1-0.5-0.5 0.5zM1394 419l3 2 2 2-1.5 1-2-1-3-2-2.5-2-2.5-2.5-0.5-1.5 2 0 2 1.5 1.5 1 1.5 1.5zM1442.5 404.5l1.5 1-1 2-2 0.5-2.5-0.5 0-1.5 1.5-1.5 1.5 0.5 1-0.5zM1446.5 402.5l-2.5 0.5-0.5-1.5 2-0.5 1-0.5 2.5-1 0 2-2.5 1zM1162.5 360l-4.5 0-3-3-5-3-2-2.5-2.5-3-2-3-3-5.5-3.5-3-1-3.5-1.5-3-3.5-2.5-2-3.5-3-2-4-4-0.5-2 2.5 0 6 0.5 3.5 4 3 2.5 2 2 4 4 4 0 3 2.5 2 3.5 3 1.5-1.5 3 2.5 1.5 1 0 1 3 1 2 3 0.5 2 2.5-1 4.5 0 6zM1173 363.5l7.5 0.5 1-1.5 7 2 1.5 2.5 6 0.5 4.5 2.5-4.5 1-4-1.5-3.5 0.5-4-0.5-3.5-0.5-4.5-1.5-3-0.5-1.5 0.5-7-1.5-1-2-3.5 0 2.5-3.5 5 0 3 1.5 1.5 0.5 0.5 1zM1209 321.5l-2.5 3.5 3 3.5-0.5 2 4 3.5-4.5 0.5-1 2.5 0 3.5-3.5 2.5-0.5 4-1.5 6-0.5-1.5-4.5 2-1.5-2.5-2.5 0-2-1.5-4.5 1.5-1.5-2-2.5 0.5-3-0.5-1-5.5-1.5-1-2-3-0.5-3.5 0.5-3.5 2-3 1 3 2.5-1.5 2.5-0.5 1-3.5 1.5-0.5 4.5-1 3-3 1.5-2.5 1.5-1.5 3.5-2 3-2.5 2-3 1.5 0 2 1.5 0 2 2.5 1 3.5 1-0.5 1.5-2.5 0.5 1 1.5-3 1.5zM1237.5 332l-3.5 4-2.5 0.5-4-0.5-6.5 0-3 0.5-1 3 3.5 3.5 2.5-2 7-1-0.5 1.5-1.5-0.5-1.5 2.5-3.5 1.5 3.5 5-0.5 1 3.5 4.5 0 2.5-2.5 1-1.5-1 2-3.5-3.5 1.5-1-1 0.5-1.5-3-2 0.5-4-2.5 1.5 0 4.5 0.5 5.5-2.5 0.5-2-1 1-4-0.5-3.5-1.5 0-1-2.5 1.5-2.5 0.5-3.5 2-5.5 0.5-1.5 3.5-3 3 1 5 0.5 4.5 0 3.5-3 1 1zM1236.5 372l0-1 3.5-1 2.5 0 1.5-0.5 1.5 0.5-1.5 1-4 1.5-3.5 1-2.5 3-3 1-0.5-0.5 0.5-1.5 1.5-2 4-1.5zM1220 377l-1.5 0-5.5-2.5 3.5-1 2.5 1.5 1 1 0 1zM1222.5 370.5l2.5-0.5 3.5-1.5-0.5 2.5-6 1-5-0.5 0-1.5 3-0.5 2.5 1zM1210.5 369.5l2.5 0 0.5 1.5-4 1-3 0.5-2 0 1.5-2.5 2 0 1-1.5 1.5 1zM1250.5 333l0 3.5-2-0.5-0.5 2.5 1.5 2-1 0.5-1.5-2.5-1.5-5 1-3 1-1.5 0.5 2 2.5 0.5 0 1.5zM1257.5 349.5l1.5 3-3.5-1.5-3-0.5-2 0-3 0 1-2 5 0 4 1zM1245 351l-1.5 1-2.5-0.5-1-1.5 4-0.5 1 1.5zM1222 266l2.5 1 1.5-1 0 1-0.5 2 1.5 2.5-1 3.5-2.5 1-0.5 3 1 3 2 0.5 1.5-0.5 5 2.5-0.5 2 1 1 0 1.5-3-2-1.5-2-1 1.5-2.5-2-3.5 0.5-2-1 0-1.5 1.5-1-1-1-0.5 1.5-2-2-0.5-2-0.5-3.5 1.5 1 0.5-6 1.5-3.5 2 0zM1241.5 305l0.5 2.5 0.5 2.5-1.5 3.5-1.5-4-1.5 2 1 2.5-1 2-4.5-2.5-1-2.5 1-2-2.5-1.5-1 1.5-2-0.5-3 2.5-0.5-1 1.5-3.5 2.5-1 2-1.5 1.5 1.5 3-1 0.5-1.5 2.5 0 0-3 3 1.5 0.5 2 0 1.5zM1215 293.5l1 3.5-2.5 2-2 2.5-5.5 3.5 2-2.5 3-2.5 2-2.5 2-4zM1238.5 290.5l1 4.5-3-1 0 1 1 2.5-2 1 0-3-1 0-1-2.5 2.5 0.5 0-1.5-2.5-3 4 0 1 1.5zM1229 294.5l0-1.5-1.5 0.5-2.5 0-0.5-2 2 1.5 2.5 0 0 1.5zM1232.5 298l-1.5 1-1 2.5-1.5 1-2-2.5 0.5-1 1-1 0.5-2.5 2 0-0.5 2.5 3-4-0.5 4zM1223 287l-1 3.5-1.5-2-2-3 3 0 1.5 1.5zM1020 525l2.5 1.5 3.5 0.5 0 0.5-1 1.5-6 0.5 0-2 0.5-1.5 0.5-1zM58.5 664l3.5-2 7 1 4.5-1 6.5 1.5 5-1.5 12.5-1 3.5 1 7.5 1.5 11 1 9 1.5 14.5 1 11.5-1.5 16 1 9.5 1 10-1 11-1 1-2-15.5 0-12.5-1-3-1.5-10.5-0.5 0.5-2 1.5-1.5 1.5-1.5-0.5-1.5-6.5-1-3-1.5-6-1 9.5 0 8.5-0.5 6 1 6.5-1 6.5-1.5 3-1-1-1.5-5-1.5-6-1-8 0-6.5-0.5-7.5-0.5-2.5-1.5-5-1-3-1.5-1.5-4.5 2 0.5 3.5 1 6.5 0 6-0.5 3 1.5 6-0.5 5.5-1 4.5-1 4.5-1 6-0.5 0-1.5-1.5-1.5 1-1 5-1 2.5 1.5 5.5-1 4.5-1 5.5 0 5.5-0.5 5-1 4.5-0.5 4.5-1 3 0.5 2.5 0 6-0.5 5 1 5.5-0.5 5-0.5 5 0.5 6 0.5 5 0 6 0 5.5 0 5.5 0 4-1.5 4.5-0.5 5 1 4.5-1 4-1 2.5 1 1.5 1.5 2.5 1 4-1 4.5 1.5 5.5 0.5 4.5 1 5 0 5-1 6 0 5 1 5.5 0.5 2-1.5-2.5-1.5-2-1.5-5 0-2-1.5-1-1.5-1.5-3 3 0.5 5 0.5 5.5-0.5 4.5 0.5 3.5 1.5 2 1 5 0.5 5-0.5 5.5-1 4.5-0.5 4 1 5 0 3.5-3 3 1.5 4.5 1 5-0.5 3 1.5 5 0 5 0.5 4.5 1 3-1.5 1.5-1.5 4 1.5 5-0.5 4 1 3 1.5 5-0.5 4-1 4-1 4.5-0.5 5.5-0.5 5-0.5 3.5-0.5 2.5-1.5 1-1.5-0.5-1.5-1.5-1.5-1-1.5-1.5-1.5-1-1.5 0-1.5 0.5-1.5 1.5-1.5 1.5-1.5 0.5-1.5-0.5-2-0.5-1.5 2-1.5 2-1 2.5-1.5 2.5-1.5 3.5-1 1.5-1.5 2-1 2.5-1 3.5-0.5 2.5-1 2.5-1 3.5-0.5 2.5-1 2.5-1 3-0.5 2 1-1.5 1.5-3.5 1-2 1-3-1-3 0.5-2.5 1-3 1-2 1-0.5 1.5 0.5 1.5 1.5 1.5-2.5 0.5-3.5 0.5-2 1.5-2.5 1-2.5 1.5-0.5 1.5 1.5 1.5 2 1.5 3 1 3 1 1.5 1.5 1 1.5 1 1.5 2 1.5 1 1 0.5 4 1.5 1 0 1.5 1.5 1.5-1 2.5-2 1.5-2 1-5.5 0.5-1.5 1.5-2.5 1.5-5.5 1.5-5.5 0.5-4.5 0.5-5.5 1-3 1.5-6 0-7 0-6 0.5-6.5 0 1 1.5 6 0.5 4.5 1 2 1.5-4 1-7 0-5.5 1 0 3 4.5 1 0.5 1.5 5 1.5 8.5 0.5 7 1 5.5 1.5 7 1 9.5 0.5 9.5 1.5 6.5 1 7 1.5 4 1.5 2 1.5 4.5-1.5 6.5-1 6.5-1 8-1 7-1.5 9.5 0 9.5 0.5 8 1 2.5-1.5 5-1 10-0.5 7.5-0.5 7.5-1 8-0.5 8.5-0.5 6-1-3-1.5-1.5-1.5 0-1.5-7.5 0.5-8 0.5-7.5 0-1-1.5 0.5-3 1.5-0.5 5.5-1 7-1 8.5-1.5 4-2.5 5.5-0.5 5-0.5 3-0.5 5.5 0 6-0.5 4.5-0.5 5-1 4-1 5.5-1 3.5-1.5 3.5-1 1-1.5-4-1 1.5-1.5 2.5-1.5 4-0.5 4.5-1 3.5-1 3-1.5 2-2 3-1 4.5 0 2 1.5 4.5 0 0-1.5 2-1.5 4.5 0.5 1 1.5 4.5 0 5-0.5 4.5-0.5 4.5 0 2 2 4-1.5 4-0.5 4-0.5 4.5-0.5 4-1 4.5-0.5 3-1 2.5-1.5 3 1 4-0.5 2.5 2 2.5 1 4.5-0.5 1.5-1.5 4-1 5 0 1.5 1.5 3.5-1.5 4-0.5 4.5 0 4 0 4.5 0.5 4 0.5 2 1 2.5 1 4-0.5 4.5 0 4.5 0 4.5 0 3.5-1 4 0 3.5-1.5 4-0.5 3.5-0.5 3-1 2.5-2 2-1.5 4 1 1.5 1 3.5 1 4 0 2.5 1 3 1 4-1 1-1.5 3.5-0.5 4-1.5 4-0.5 4.5-0.5 3-1 3-1 3-1 4 0.5 3.5-1 2.5-1 3.5 0 3-1 1-1.5 3-1 3.5-0.5 3.5-1 3.5 0 3.5 0 4 0.5 3 1 0.5 1.5 3 1.5 2.5 1 4.5 0.5 2.5 1 3.5 1 3.5 0.5 3-1 3.5-1.5 3.5 1 4 0.5 3.5 0 4 0.5 3.5 0 3.5 4-0.5 1 0 2-4 0.5-3 1.5 0.5 1.5 4.5 0-0.5 1.5-2 1.5-2 1.5 3 1.5 4.5 0 4.5-0.5 2-1.5 1.5-1.5 2-1 2.5-1 1-1.5 2-2 2.5-0.5 4 0 4-0.5 4-0.5 2-1.5 1-1.5 2.5-1.5 4-1 3-0.5 2.5-1.5 2-0.5 3-1 3.5 0.5 3.5-0.5 4 0 4 0 3-1 2-2.5 1.5 1 1.5 1.5 3.5 1 3.5 0.5 4-0.5 4 0 3.5 0 2.5 0 3 0 3 1 3.5-0.5 4 0 4-0.5 4 0.5 2.5-1.5 2-1 2.5-1 5-3 2.5 0.5 2.5 1 3 1.5 4.5 2 4 0 3.5 0 4 0 4.5-0.5 3-1.5 2.5-1 4.5 0 3-1 3 1 2 1 2.5 1.5 4.5-0.5 2.5 1 4.5 1 5 0.5 4-0.5 3-1 2.5-1.5 3.5 0 3.5 0.5 4 0.5 3.5-1 3.5 0 3.5 0.5 3.5 0.5 3.5-0.5 4-1 4 0 4.5 0 3.5-0.5 3.5 0 1-2 0.5-1.5 2 1 1 1.5 1 2 2 1 3 0.5 4.5 0 5 0 3.5-0.5 5 0 3.5 0 5 0.5 4.5 0 3 1.5-1 1 2.5 1.5 4 1 4.5 1 5 0.5 5 0.5 4 0.5 4.5 0 2.5-1 3.5 1 3 1 3.5 1 4.5 0.5 4.5 0.5 2 1.5 4 1 3 1 4.5 1 4.5 0 4 0 4.5 0 5 0 4 0.5 4 1 4 1 3 1-0.5 1.5-2 1.5-2 1.5-1 1.5-2 1.5-5 0.5-2.5 1.5-5 1-1.5 1.5-3 1.5-2.5 1-1.5 1.5-1 1.5-0.5 2 0 1.5 2.5 1.5 0.5 1 2 1.5 7 0.5 1.5 1.5-7 1-6 0.5-7 0.5-3.5 2-0.5 2-3.5 2.5 5 1.5 2 1.5 3 1.5 5 1.5 5.5 1 5.5 1 9 1.5 2 2 11 0.5 3.5 1.5 11-1 8.5 1.5 7 0.5M489.5 611l0.5 2-1 1.5-1 1.5-4.5 0.5-4.5 0.5-5 0 2-1.5-9 1-3-1 0-1.5 4-1.5 3-0.5 4.5 0 1-2 0-1.5 0-3 2.5-1.5 3.5-1 2 1.5 1 1.5 1.5 2 1 1.5 1.5 1.5zM358.5 615l2.5-1 5 0.5 5.5 0.5 4 0.5 4.5-0.5 2 2-3 0-4.5 0-5 0-5 0-4-0.5-2-1.5zM280 621.5l1-1 4.5 0.5 5 0.5 4.5-0.5-2 1.5-3.5 1-5.5-0.5-4-1.5zM262 621l3-1 3.5 1 6 1.5-2 0-5-0.5-5.5-1zM121.5 640.5l2-1.5 7.5 1 4 1 2.5 1.5 1.5 1.5-7.5 0.5-5-1-2.5-1.5-2.5-1.5zM585.5 642.5l0.5 3.5-12 2.5-7 1-8.5 0.5-9 0-5-1.5 0.5-1.5 8.5-1 3-1.5 2.5-1.5 2-1.5 2-1.5 2.5-1.5 2 0 6-1 6 1 4.5 1.5 1.5 2.5zM523.5 646l-1 2-1 2-8.5-0.5-8.5 0-4.5-1-2.5-1.5 9 0 8 0.5 3-1.5 2-1.5 4 1.5z"/>
</g>
</defs>
<g id="map1">
<text class="t" x="258.5" y="88.5" textLength="971.0" lengthAdjust="spacingAndGlyphs" xml:space="preserve">Combined (GIM), 2001-12-13 20:00 UT</text>
<g clip-path="url(#mc)" transform="translate(0 113.5)">
<rect x="58.5" y="0" width="1371.0" height="675.0" fill="#000092"/>
<path fill="#0000bb" d="M58.5 0l1371 0 0 675-1371 0z"/>
<path fill="#0000e3" d="M58.5 0l1371 0 0 675-1371 0zM1028 50l-23.5 3.5-14.5 4.5-39.5 24.5-33 14-11.5 7.5-7 8-1.5 3.5 0 4 2 4 4 4 4.5 2.5 12 5 15 3.5 39 6.5 19 2 54-0.5 48-7.5 52.5-17 65.5-15 15.5-5 27-11 12-3.5 15-2 35-0.5 15.5-2.5 7.5-2 7.5-3.5 4.5-3.5 2-4 0-4-2.5-4-7.5-7.5-7.5-4.5-8-1.5-27 2-27-1.5-27 2.5-31-2.5-31 0.5-27-0.5-112-0.5z"/>
<path fill="#0000ff" d="M58.5 0l1371 0 0 15.5-7.5-3.5-12-2.5-27 0-77-3-31 1-255 0.5-27 2-23 4-13 5.5-10 8-15.5 17.5-4 3-5 2-55 11.5-52 9.5-19.5 1-65.5-2-15.5 1-15.5 2.5-13 3.5-10 5.5-6.5 6-2 4-2 8 1 7.5 5 11.5 6 8 9 7.5 16.5 9 15.5 5.5 11.5 1 19.5-1.5 7 1.5 4.5 2 7 5.5 2 4 2 7.5 0.5 8 1 4 6.5 3.5 4 0.5 46.5 2 15.5 0 42.5-3 27-6 11.5-1 11.5 1 27 5 42.5 1 31-3.5 34.5-1 23.5-2.5 22.5-4 31.5-8 11.5-1.5 19.5 1.5 19 5 15.5 6.5 6.5 4.5 3.5 3.5 3 8 0.5 3.5-2.5 8-6 7.5-12.5 12.5-6 11-1 11.5 3 15.5 7.5 15.5 9.5 11.5 6 4.5 8 4.5 11.5 2.5 11.5-1.5 15.5-7.5 15.5-3 7.5-3 8-5 6.5-7 6-11.5 2.5-12 0-11.5-4-23 0-11.5 3.5-8 4.5-4.5 8-4.5 11.5-4.5 11.5-3 11.5-1.5 12 2 7.5 3.5 15.5 9.5 7.5 2 4-1 4-3 4-5 7.5-15.5 0 504-1371 0z"/>
<path fill="#001dff" d="M188.5 15.5l20.5-1.5 58-2 54-0.5 50.5 1.5 81 4 23 3.5 19.5 5 18.5 9 29.5 19.5 10 7.5 11.5 12.5 19 26.5 8.5 7.5 30.5 23.5 15.5 13 9 10 14 19 9 8 13 7.5 12.5 6 27.5 6.5 27 11 11.5 1 27-1 23 2 19.5-2 11.5 0 11.5 2.5 15.5 6 19.5 1 11.5 2 7.5 3 14.5 8.5 5 2 31-0.5 27 6 19-2 8 0 11.5 3 19.5 7 19-1.5 11.5 0 27 6.5 8-1 9-4.5 25.5-17.5 8-2 4 0.5 3.5 2 4 5 7.5 18.5 8 24.5 7.5 35 3 7.5 5 7.5 15 15.5 20 15.5 15 8.5 15.5 4 8 1 7.5-1 10.5-4.5 16.5-12 27.5-23 6.5-7.5 4.5-7.5 21.5-46.5 12-19.5 13-14 23-16 8-6.5 7.5-9.5 4-6.5 0 473-1371 0 0-538.5 11.5-31.5 14-20 9.5-16 6-7.5 17-13.5 14.5-13.5 12.5-7.5 19.5-7zM1190 438l-7.5 4-6.5 5.5-6 7.5-7 13.5-4 3.5-3.5 0.5-8-2-31.5-19-8-4-7-1.5-27 6.5-30.5 1.5-27 6-31-0.5-27 9.5-31 0-3.5 1.5-4.5 4-2 4 0.5 3.5 3 4 2.5 1.5 11.5 3 12 0.5 27-2.5 19 0.5 19.5 1.5 19 5 12 4 7.5 4 19.5 17 11 8 8 3.5 8 2 11.5 1.5 11.5 0 27-3 19.5-5.5 44-21.5 12-8 5.5-7.5 2.5-11.5 0.5-12-2-11.5-4-7.5-4.5-5-11.5-5.5-11.5-1z"/>
<path fill="#0041ff" d="M258 27l55.5-1.5 61.5 2.5 69.5 6 19.5 4 19.5 6.5 19 11 26 21.5 40 42 39 39 26.5 32 7.5 6 8 3 40.5 9.5 21 4 39 11 11.5 1 65.5-1.5 15.5 1.5 50 11.5 35 12.5 54 5 31 1.5 27 5.5 27 3 31 6 27 3 7.5 3 8.5 6 4.5 8 1.5 7.5-0.5 11.5-4 19.5 0.5 11.5 5 9.5 16 17.5 5 7.5 1.5 4 0 7.5-1.5 4-5.5 7.5-10 8-9.5 5.5-7.5 4-11.5 3.5-38.5 6-42.5 8.5-58 9-117 25-5 4-3 4-2 4-0.5 3.5 1.5 4 2.5 4 15.5 11.5 7.5 7.5 6.5 11.5 0 8-4 7.5-8 8-48.5 36.5-31 17.5-9.5 7.5-2.5 4-1 4 0.5 3.5 2 4 3 4 7.5 5 7.5 3.5 8 1.5 54 3.5 50 0 66-4 7.5-3 11-6.5 8-8 12-14.5 7.5-4 39-7 30.5-10 27.5-7.5 42-17 31-14 15.5-5.5 19.5-4 34.5-4.5 10.5-4.5 3.5-4 1-3.5-1-4-5-7.5-16.5-15.5-5-8-5-11.5-9.5-38.5-0.5-7.5 1-8 5.5-7.5 5.5-4 8-4 27-9.5 19.5-9.5 11.5-8 27-23 7-7.5 4.5-8 13.5-38.5 11.5-23 10.5-15.5 22.5-24 11.5-16 0 456.5-1371 0 0-510.5 4-8 3.5-5.5 12-11.5 11.5-7 23-8.5 10.5-8.5 7-11.5 10-27 6-11.5 9-13 11.5-10 11.5-5 19.5-4.5 27-3.5zM975.5 536l10-2 7.5 1 10 5 8.5 7.5 6 12 2 11.5-0.5 7.5-1.5 4-3.5 4-9.5 2-15.5-2.5-7.5-3.5-8.5-8-6.5-11.5-2-11.5 2-7.5 3.5-4.5z"/>
<path fill="#0064ff" d="M254.5 42.5l43.5-3 61.5 1 77.5 7.5 19.5 4 16 6 18.5 10 19.5 16 49.5 51 36 42.5 14.5 15.5 15.5 12.5 8 4 7.5 2.5 15.5 2.5 38.5 4.5 39 10 15.5 3 15 0.5 54.5-1.5 23 2 27 6 46.5 15 19 4.5 23.5 3 46 3.5 42.5 5.5 35 9 19 1.5 8 4.5 3.5 4 2 7.5-2 7.5-6.5 8-23.5 19-6 8-1.5 4 0 3.5 3 4 8 6 18 9.5 4.5 4 3 3.5 1.5 4-0.5 7.5-2 4-5.5 5.5-7.5 3.5-27 4.5-127.5 35.5-77.5 16.5-34.5 13-20 2.5-6 4-3.5 4-1.5 3.5 0.5 4 2.5 4 4.5 3.5 16.5 12 6.5 7.5 3 7.5 0.5 4-2 8-5 7.5-8 7.5-11.5 8-15 6-39 7.5-27 7.5-27 5-11.5 3-100.5 36.5-6 4-1.5 3.5 2.5 4 5 2.5 8 2 46 6.5 96.5 7 62 7.5 38.5 1.5 116 0 23-0.5 27-2.5 50.5-7.5 46-4 15.5-3 19.5-5.5 19-8 14-7.5 13.5-11.5 22.5-31 8-7 4-2.5 8-2 46-6 31-2 39.5-11.5 11-3.5 7.5-5 6.5-6.5 1-4-0.5-4-3-4-10-7.5-14-7.5-26.5-7.5-11.5-5-11.5-7-10-7.5-6.5-8-5-11.5-2.5-15.5 0.5-11.5 3.5-7.5 4.5-6 7.5-4.5 33-13 13.5-7 23.5-18.5 16.5-17 5.5-7.5 3.5-7.5 7-35 8.5-23 11-19.5 17.5-22 7.5-12 0 374-31-1-46-5-12-0.5-11.5 1-11.5 3-9.5 6-6.5 7.5-2 8 2 7.5 6.5 8 9.5 5 11.5 3.5 19.5 1.5 81 1 0 23.5-1371 0 0-24.5 10.5-2.5 9-4.5 6-7 1-8-3-7.5-4-4.5-8-5-11.5-3.5 0-411 11.5-26.5 4-5 4-3.5 11.5-5.5 19-3.5 8-2.5 11.5-7 7.5-7.5 11-16.5 18-38.5 8-11.5 8-8 13-7 15.5-5 19.5-4z"/>
<path fill="#0088ff" d="M299.5 54l56.5 0 69.5 6.5 26.5 5 19.5 8 12.5 7.5 15 13 19 21.5 27.5 27 31 39 11 11.5 25.5 19 9.5 5 11.5 5 19 3.5 42.5 3 39 9 15.5 2.5 19 0.5 42.5-3 15.5 0.5 15.5 2 23 6 54 17.5 27.5 7.5 11.5 1.5 34.5 1 27 5 26 3 8 4 4.5 4 3 3.5 1 4-1 4-3 3.5-3.5 2.5-15.5 5.5-27 15-8 2-15.5 0-3.5 0.5-4 3-1 2.5 1 4 4 3 15.5 3.5 7.5 5.5 8 8.5 10 14 1.5 4 0.5 4-2 3.5-3.5 4-11.5 8-52.5 23-27.5 9-58 12.5-60.5 17-32.5 5.5-27 1.5-3.5 2.5-5.5 6-1.5 4 0 3.5 2 4 3 4 13.5 10 5 5.5 5 7.5 1.5 7.5-1 4-2 4-3.5 4-13.5 7.5-22 7.5-20 5-38.5 5-46.5 5-15 3-27.5 11-27 8-34.5 14-15.5 4.5-15.5 2.5-46.5 3-34.5 4-11.5 2-8 2.5-7.5 4-8 6.5-11.5 11.5-7.5 5.5-11.5 5.5-12 3-23 3.5-23 1-19.5-1-19.5-4-11.5-4-7.5-4.5-8-7-12.5-16-7.5-7.5-7-5-11.5-5.5-27-6.5-34.5-5.5-35-6.5-27-3.5 0-371.5 19.5-25.5 7.5-6.5 11.5-4 19.5-3 7.5-2.5 12-6 9.5-7.5 7-8 6.5-9 14.5-29.5 4.5-8 12-13.5 11.5-9 15.5-8 19-6 35-6.5zM1429.5 245.5l0 331.5-6-2.5-6-3.5-3.5-4-1.5-4 0.5-3.5 5-16.5 1-10.5-1.5-8-5-7.5-10.5-8-11-5-62-17-15.5-7-12-9.5-6.5-7.5-3.5-8-1-7.5 2-8 5.5-7.5 11-7.5 24-11 11.5-8 26.5-23.5 16-19.5 4.5-7.5 3-8 1-30.5 4.5-19.5 9-19.5z"/>
<path fill="#00adff" d="M313 69.5l43-1 54 3.5 31 4.5 11.5 3.5 11.5 5 11.5 7 9.5 8.5 25.5 30.5 23 23.5 21.5 27 19 19 6 4.5 27 17 10 5.5 9 3.5 27 5 42.5 1.5 39 8.5 15.5 2 19 0 42.5-3.5 23.5 1.5 23 5 52 19 19 7.5 21.5 14 4 1 4-0.5 19-7.5 8-1 7 2 6.5 4 3.5 3.5 0.5 4-2 4-4 3-8 2-7.5 0.5-11.5-1-15.5-5-7.5 1.5-19.5 9-15.5 14.5-22 18 0.5 3.5 6.5 4 25 11.5 5.5 1.5 42.5 1 11.5 1 4 1.5 4 3 2.5 3.5 0 4-1.5 4-5 4.5-35 22.5-11.5 5.5-15.5 5-54 13-54 15.5-15.5 2-35 2.5-15 2-12 3.5-23 9.5-19.5 3-6 4-3.5 4-2.5 3.5 0 4 2.5 4 17 7.5 5.5 4 3.5 4 3.5 7.5 0 4-1.5 3.5-3.5 4-7 4-8 2-11.5 0-11.5-3-23-12-11.5-5-7.5-5-4.5-2-11.5-1.5-11.5 1.5-11.5 2.5-11.5 5-31 21-19.5 10.5-38.5 14.5-21 10-10 2-27-2-27 2-34.5-5-19.5-1-42.5 5-42.5 3-15.5-0.5-73.5-8.5-38.5-6.5-58-1.5-7.5-1.5-8-3-7.5-6.5 0-324 19.5-19.5 11.5-8 11.5-4.5 34.5-7 12-4.5 9-6 8.5-7.5 6.5-7.5 18.5-30 7.5-10.5 10.5-10 12.5-8.5 19.5-10 19.5-6.5 27-6.5zM1429.5 259l0 252.5-4-3.5-11-6.5-20-9.5-30.5-11-31-8.5-7.5-6-3-3.5-2-4-1.5-7.5 2.5-8 2.5-4 9-7 19.5-13 19-16.5 15.5-16 15-20.5 3.5-8 2-7.5 0.5-7.5-1.5-23.5 1.5-15.5 7-19z"/>
<path fill="#00cdff" d="M331.5 85l36-1.5 42.5 2 18.5 3 14.5 4 10.5 4 10.5 5.5 7 6 8.5 11.5 6.5 11.5 5 11.5 2 8 0 7.5-5.5 19.5 0 7.5 4 11.5 3.5 5 4 2.5 3.5 0 4-0.5 19.5-10.5 3.5-0.5 8 1 11.5 6 57 36 12.5 5.5 15.5 4 19 2 42.5 0 42.5 8 15.5 1.5 15.5-0.5 38.5-4.5 23.5 0.5 11.5 2 11.5 3 41 17 13.5 7.5 4.5 4 2.5 4 1 3.5-1 4-2 4-7 7.5-10.5 8-26.5 10.5-15.5 10-7.5 4-8 2-19 1-8 2-6 5-2 4 0 3.5 2 4 2 2.5 4 2 4 1 34.5-1 19.5 3 19.5 1.5 38.5 6.5 8 4 3.5 3.5 1 4-1 4-2.5 4-4 3.5-9 4.5-34.5 11-23.5 6-38.5 12-27 5-35 2.5-15 2-15 3.5-35.5 11-31 6.5-30.5 2.5-54.5 15.5-38.5 19.5-23 8.5-19.5 3.5-38.5 1-50.5 13-26.5 8-19.5 3.5-50 5-46.5 0-69.5-6.5-77.5-9.5-7.5 0-23 2.5-8 0-11.5-2-8-4-7.5-6 0-287 2.5-5 5-6.5 8-6.5 11.5-7 8-3.5 15-5 39-5.5 11.5-3.5 11.5-6 8.5-6.5 7-7.5 18.5-27.5 9.5-11.5 14-11.5 19.5-11.5 17-7.5 22-7 23-5.5zM1429.5 275.5l0 224-15.5-9.5-30-15.5-12-8-10-7.5-3-4-1.5-3.5 0-4 2.5-8 5.5-7.5 44-50 5.5-8 4-7.5 2-8 0-7.5-4.5-31 0-11.5 3-11.5z"/>
<path fill="#09f1ee" d="M330.5 104l29-2.5 42.5 0 12 2 11.5 3.5 12 5 7 4 5 3.5 6.5 8 5 11.5 3 19-1 23.5 1.5 7.5 2.5 7.5 4 8 6 7.5 6.5 5.5 7.5 4.5 8 1.5 3.5-0.5 8-2 11.5-6 4-1 11.5 0.5 11.5 4.5 19.5 9.5 38.5 21 11.5 4.5 15.5 3.5 15.5 1 46-2 42.5 7 15.5 1 15.5-0.5 38.5-5.5 19.5 0 11.5 1.5 11.5 3 24.5 11 12.5 7.5 7.5 8 2 3.5-1 4-3 4.5-8.5 7-34 18.5-11.5 3.5-23 3.5-11.5 4-8 5.5-3.5 3.5-5 8-0.5 3.5 0.5 4 1.5 4 3.5 3 6.5 4.5 5 2 15.5 4 15.5 2.5 30.5-0.5 8 1 7 2.5 5 4 2.5 4-0.5 4-2 3.5-8.5 5.5-27 8-30.5 11-23.5 4-46 3.5-15.5 3.5-42.5 13-66 9-46 12-35 15-19 6.5-19.5 3.5-35 2-15 2-50.5 11.5-34.5 11.5-23.5 4.5-34.5 2.5-42.5-1-38.5-4.5-31-1.5-27-4-27-1-27-4-8 0-19 3-12-0.5-11.5-3-7.5-4.5-4-3 0-255.5 7.5-14.5 4-4.5 8-6 15.5-6.5 23-5 19-1 19.5-2.5 15.5-4 15.5-6 12-7 7.5-6.5 6-9 8.5-15.5 5-7.5 7.5-8 11.5-8.5 18-10.5 17.5-8 30-10.5zM1429.5 297l0 35-3.5-12-0.5-7.5 1.5-8zM1429.5 384l0 105.5-28.5-19-9-7.5-5.5-8-2-3.5-1-8 2.5-11.5 9.5-15.5 14.5-16.5z"/>
<path fill="#26ffd1" d="M343.5 127.5l12.5-1 11.5 1.5 11.5 3 7 4 3.5 4 2 3.5 1 8 0.5 15.5 2 7.5 6.5 8 8.5 6 5 5.5 10.5 17 3.5 3 6 3 52 19 15.5 2.5 23.5-3 15 2 23.5 7.5 31 15 11.5 4.5 15.5 4.5 11.5 2 19 0 42.5-4 58 7.5 15.5-1.5 35-5.5 19-1 12 1 11.5 2.5 7.5 3 15.5 9 4 4.5 1.5 4 0.5 7.5-1.5 4-4.5 5.5-8.5 6-11 5.5-11.5 4-23 2.5-8 2-11.5 5-19 14-8 4.5-11.5 2.5-15.5-0.5-7.5 1-8 3-6 6.5-1.5 4 0.5 4 1.5 3.5 4 4 5.5 2.5 7.5 0.5 19.5-3.5 11.5 0 23.5 9 24 7 6 4 2.5 3.5 0 4-2 4-4.5 3.5-7 3.5-27 2-42.5 5.5-11.5 2.5-23 8.5-19.5 5-62 9.5-23 5-31 9-27 10-19 5.5-19.5 3.5-35 2.5-15 2.5-54.5 13-38.5 10.5-27 4.5-27 1.5-34.5-1-42.5-4.5-27-0.5-31-3.5-27-0.5-31-3-27 1-15.5-3-8-3.5-7.5-5 0-95.5 4-2.5 3.5-4 2-5.5 0.5-3.5-3-8-7-10 0-88.5 7.5-18.5 4-7 8-8 3.5-2.5 8-2.5 7.5-0.5 19.5 1 31-9.5 100-21 15.5-2 21-0.5 6-1.5 4.5-2.5 1-4-2.5-3.5-14-11.5-4.5-8 0-7.5 3.5-8 8.5-8 20-11 19.5-8zM1425 405l4.5-2 0 75.5-15-12-7-7.5-4.5-7.5-2-8 1.5-11.5 5.5-11.5 6.5-8z"/>
<path fill="#43ffb4" d="M329 225.5l34.5 1 15.5 3 27 10.5 8 0.5 27-1.5 19 0.5 31 9.5 42.5 4.5 15.5 2.5 15.5 5 33.5 13 24.5 6.5 15.5 3 11.5-0.5 31-5 15-1 15.5 0.5 35 4 11.5 1 15.5-2 31-5.5 15.5-1.5 12.5 0.5 14.5 3 8.5 4.5 4.5 4 2.5 4 0.5 7.5-1.5 4-3.5 3.5-11 6.5-11.5 3-23.5 2-7.5 2-11.5 5-19.5 12.5-8 3.5-7.5 2-27 3.5-7.5 3-11 7.5-7.5 7.5-2 4 0.5 4 8 12.5 8 9 11 9 1 4-13 11.5-10.5 6.5-8 3-15.5 4-58 9.5-19 4-77.5 23.5-23 4-46.5 4-104 25-19.5 3-23 1-38.5 0-100.5-6.5-77.5-3-19-3.5-11-5-8.5-5 0-62.5 7.5-2.5 11-7 6-8 2-7.5-0.5-8-2-7.5-9.5-19.5-4.5-11.5-2.5-15.5-0.5-15-1.5-8 1-11.5 4.5-15.5 4.5-10 7-9 4.5-4 8-3 27-3.5 34.5-11.5 35-7 65.5-5 34.5 1zM748.5 393.5l5-1.5 7 1.5 4 4 0.5 3.5-3 4-8.5 3-7.5-1-6.5-2-1.5-4zM1426.5 420.5l3-1.5 0 45.5-5-5.5-5-7.5-1.5-4.5-1-7.5 1-6 2-5.5z"/>
<path fill="#60ff97" d="M336.5 236.5l15.5 0 15.5 2 11.5 2.5 23 8 8 1.5 38.5 2 31 6.5 65.5 10.5 11.5 3 26.5 9 55 14.5 11.5-0.5 31-6 23-1 15.5 0.5 38.5 3 23 0 8-1.5 15.5-5.5 15.5-2 15.5 1.5 7.5 2.5 4 2.5 3 3.5 0 4-4.5 4-10 2.5-35 4-7.5 2-8 4.5-12 10-7.5 4.5-7.5 3-31 5-7.5 3.5-11.5 7.5-13.5 11-2.5 4-1.5 4 0.5 4 1 3.5 5 8 4 7.5 3 11.5-1 8-2.5 3.5-4.5 3.5-11.5 3-46 8-31 7-83.5 25-67 7-50.5 12.5-58 11-50 3.5-65.5-1.5-85-5-37.5-0.5-16.5-3.5-11.5-4-12-6.5-7.5-5.5-4-4 0-21.5 19.5-8 13.5-8.5 11.5-12 5.5-7.5 1.5-4 0-3.5-2-4-9.5-15.5-11.5-23-3-8-2.5-11.5-1.5-23 1-15.5 4.5-11.5 5.5-8 6-4.5 8-3.5 50-17 19.5-5 19-2.5 39-2 27-3z"/>
<path fill="#7dff7a" d="M340.5 244.5l23 1.5 15.5 3.5 27 8.5 35 3.5 27 7 27 3.5 50 9 62 16 31 9.5 15-0.5 27.5-5 30.5-0.5 42.5 3.5 4 1 4 2.5 1 1 1 4-1.5 4-3.5 3.5-5 2.5-19 0.5-11.5 3.5-15.5 9.5-19.5 16-5 6.5-2.5 8 0 7.5 2.5 15.5-1 8-2.5 3.5-5 4-10 4-65.5 17.5-69.5 21.5-19 3.5-50.5 4.5-23 4.5-31 8-58 9-54 3.5-31-2-30.5 1.5-27-3.5-31 1-31-4-27 1.5-4.5-1-6.5-4-3.5-4-2-3.5-0.5-4 1.5-3 5-4.5 12-8 17-27 2.5-7.5 0.5-4-1-4-3.5-7.5-7.5-8-9.5-7.5-5.5-7.5-8.5-15.5-6-15.5-3-15.5 0-11.5 3.5-14 6-9 5.5-5.5 12-6.5 34.5-13.5 19.5-6 15.5-2.5 42.5-3 30.5-4z"/>
<path fill="#97ff60" d="M278.5 254.5l62-3.5 23 1.5 15.5 4 27 8 35 5.5 23 7 23 2.5 62 12 31 8 23 5 35 11.5 11.5 1.5 11.5-0.5 11.5-2 15.5-4 7.5-0.5 4 1 4 2 2 3 0 3.5-2.5 4-19 15.5-6 7.5-5.5 11.5-7.5 27-2 4-6 5.5-7.5 4.5-23.5 8.5-96.5 30.5-19 3.5-50.5 4.5-73 14.5-39 2.5-23 2.5-19.5-0.5-15.5-3-19 1-19.5-1-7.5-1-11.5-4.5-4 0-38.5 0-12.5-2-5-3.5-1.5-4 0.5-8 3.5-19 0-8-2-7.5-4.5-7.5-6.5-8-8.5-7.5-25.5-18.5-10-12.5-6-11.5-3.5-11.5 0.5-15.5 2.5-8 5-7.5 10-7.5 24-12 20-7.5 23-5z"/>
<path fill="#b4ff43" d="M312.5 258.5l32-1.5 19 2 38.5 10 27 5 27.5 7 30.5 6 35 8.5 27 5 54 12 46.5 17 4.5 2 5 4 2 4 1 7.5-3.5 19.5-3 7.5-5 8-5 4.5-7.5 5-19.5 8-81 27-23.5 5.5-50 4.5-69.5 12.5-19.5 2-46 3-15.5-0.5-23.5-4-19-1-11.5-1.5-42.5-13.5-8-3.5-3.5-3.5-5.5-6-14-28.5-11.5-16.5-8-7-24-17.5-10.5-11.5-4-8-2.5-7.5 1-7.5 3.5-8 7-7.5 11-8 15-7.5 21-8 17-3.5 66-11.5z"/>
<path fill="#d1ff26" d="M283.5 266l22-2 35-1 19 1 108.5 26 46 12.5 81.5 15 16 6.5 23 11.5 6 4 5.5 7.5 1 4 0 7.5-3 8-5 7.5-9 7.5-7.5 4-15.5 6-27 8.5-42.5 15.5-19.5 5.5-46.5 5-65.5 11.5-31 3-54 2.5-42.5-5-11.5-2.5-34.5-11-8-4-7.5-6-7.5-9.5-15.5-27-8-11.5-8-9-15.5-14-7-8-4-7.5-1-8 2.5-7.5 6.5-8 10-7.5 15.5-7.5 16.5-5.5 54-13z"/>
<path fill="#eeff09" d="M297.5 270l43-2 19 1.5 49.5 12 32 9.5 27 6 31 11 11.5 3 30.5 6.5 31 3 15.5 2.5 13 5 18 11.5 7.5 7.5 2.5 4 1 4-0.5 3.5-3 5.5-6 6.5-13 7.5-27 8.5-46.5 18-15.5 4.5-50 6.5-46.5 10-27 3-65.5 2.5-35-1-7.5-1-46.5-17-6.5-3-5-4-9-11.5-18.5-31-21.5-27-4-7.5-1.5-8 1-3.5 5.5-8 10.5-7.5 10.5-5 30-10.5 31.5-9.5 15.5-3.5z"/>
<path fill="#ffde00" d="M344.5 273l11.5 1 11.5 2.5 42.5 11.5 31 10.5 25 6 36.5 17.5 19.5 7.5 19 1 35-2.5 7.5 1 6 2.5 5 4 7.5 8 2 3.5 0.5 4-0.5 4-5 6.5-8 5-8.5 4-53 18.5-27 8-38.5 7-46.5 12-11.5 1.5-11.5 0-27-2.5-42.5-2-31-3.5-19-10.5-27.5-7.5-11.5-7-5.5-6.5-12.5-19.5-16.5-23-3.5-7.5 0-8 1.5-3.5 3-4 11-8 42.5-19 26.5-8 15.5-2.5z"/>
<path fill="#ffc100" d="M290 281.5l23.5-3 34.5-0.5 17.5 3.5 44.5 14 23 10.5 27 8.5 8 4 45.5 36.5 3.5 3.5 0.5 4-3 4-5.5 4-39.5 19-28.5 6-29 9.5-6 1-5.5-1-9-4-26.5-19-6.5-4-6.5-2-34.5-3-8-2-19.5-8.5-27 1-11.5-2.5-9-6-17-19.5-3.5-7.5 0.5-8 6-7.5 21.5-15.5 21-10z"/>
<path fill="#ff9f00" d="M298 285.5l31-3 15.5 0.5 7.5 1 15.5 4.5 23 10 15.5 5.5 33.5 27.5 2.5 4 1.5 4-1 7.5-5.5 8-8 3-7.5-1-15.5-3.5-7.5 0-39 6-30.5 3-15.5-2-23.5-7.5-19-3-8-2.5-7-4-7.5-8-4-7.5 0.5-8 4-7.5 6.5-8 11.5-8 16-7z"/>
<path fill="#ff7e00" d="M307 289.5l22-2 15.5 0.5 11.5 2.5 11.5 5 9 5.5 7.5 7.5 1.5 4 1.5 7.5 0 4-1.5 7.5-6.5 8-11.5 6.5-11.5 3.5-27 4-15.5-1.5-23.5-6.5-11.5-4-10.5-6-3.5-4-4-7.5 1-7.5 4.5-8 8.5-7.5 8-4.5 11.5-4.5z"/>
<path fill="#ff5d00" d="M336.5 293l11.5 1.5 11.5 4.5 8 5.5 3 4 3.5 8-0.5 7.5-4 7.5-6 5-11.5 5.5-15.5 3-11.5 0.5-15.5-2-15.5-4.5-7.5-3.5-5.5-4-3.5-3.5-2-4-0.5-7.5 4-8 4-4 7-4 12-4.5 11.5-2z"/>
<path fill="#ff3b00" d="M309 301l12-2 11.5-0.5 12 1.5 7.5 3 7 5.5 2 4 1 7.5-0.5 4-2 4-7.5 5.5-15.5 4-23-1-15-5-6-3.5-3.5-4-1.5-4 0-3.5 1.5-4 3.5-4 5.5-3.5z"/>
<path fill="#ff1a00" d="M312.5 308.5l8.5-2.5 8-1 7.5 1 10 2.5 3 4 0 11.5-5 4-8 1-11.5 0-11.5-2-8-4.5-2-2.5-0.5-3.5 2.5-4z"/>
<use href="#coast"/>
</g>
<rect class="f" x="58.5" y="113.5" width="1371.0" height="675.0"/>
<rect x="58.30" y="832.0" width="47.68" height="67.5" fill="#000092"/><rect x="105.58" y="832.0" width="47.68" height="67.5" fill="#0000bb"/><rect x="152.85" y="832.0" width="47.68" height="67.5" fill="#0000e3"/><rect x="200.13" y="832.0" width="47.68" height="67.5" fill="#0000ff"/><rect x="247.40" y="832.0" width="47.68" height="67.5" fill="#001dff"/><rect x="294.68" y="832.0" width="47.68" height="67.5" fill="#0041ff"/><rect x="341.96" y="832.0" width="47.68" height="67.5" fill="#0064ff"/><rect x="389.23" y="832.0" width="47.68" height="67.5" fill="#0088ff"/><rect x="436.51" y="832.0" width="47.68" height="67.5" fill="#00adff"/><rect x="483.78" y="832.0" width="47.68" height="67.5" fill="#00cdff"/><rect x="531.06" y="832.0" width="47.68" height="67.5" fill="#09f1ee"/><rect x="578.33" y="832.0" width="47.68" height="67.5" fill="#26ffd1"/><rect x="625.61" y="832.0" width="47.68" height="67.5" fill="#43ffb4"/><rect x="672.89" y="832.0" width="47.68" height="67.5" fill="#60ff97"/><rect x="720.16" y="832.0" width="47.68" height="67.5" fill="#7dff7a"/><rect x="767.44" y="832.0" width="47.68" height="67.5" fill="#97ff60"/><rect x="814.71" y="832.0" width="47.68" height="67.5" fill="#b4ff43"/><rect x="861.99" y="832.0" width="47.68" height="67.5" fill="#d1ff26"/><rect x="909.27" y="832.0" width="47.68" height="67.5" fill="#eeff09"/><rect x="956.54" y="832.0" width="47.68" height="67.5" fill="#ffde00"/><rect x="1003.82" y="832.0" width="47.68" height="67.5" fill="#ffc100"/><rect x="1051.09" y="832.0" width="47.68" height="67.5" fill="#ff9f00"/><rect x="1098.37" y="832.0" width="47.68" height="67.5" fill="#ff7e00"/><rect x="1145.64" y="832.0" width="47.68" height="67.5" fill="#ff5d00"/><rect x="1192.92" y="832.0" width="47.68" height="67.5" fill="#ff3b00"/><rect x="1240.20" y="832.0" width="47.68" height="67.5" fill="#ff1a00"/><rect x="1287.47" y="832.0" width="47.68" height="67.5" fill="#e40000"/><rect x="1334.75" y="832.0" width="47.68" height="67.5" fill="#bb0000"/><rect x="1382.02" y="832.0" width="47.68" height="67.5" fill="#920000"/>
<rect class="f" x="58.5" y="832.0" width="1371.0" height="67.5"/>
<path class="tk" d="M58.5 899.5v14.6M200.3 899.5v14.6M342.2 899.5v14.6M484.0 899.5v14.6M625.8 899.5v14.6M767.6 899.5v14.6M909.5 899.5v14.6M1051.3 899.5v14.6M1193.1 899.5v14.6M1334.9 899.5v14.6"/>
<text class="k" x="45.0" y="962.0" textLength="26.0" lengthAdjust="spacingAndGlyphs">0</text><text class="k" x="174.2" y="962.0" textLength="51.2" lengthAdjust="spacingAndGlyphs">15</text><text class="k" x="316.1" y="962.0" textLength="51.2" lengthAdjust="spacingAndGlyphs">30</text><text class="k" x="457.9" y="962.0" textLength="51.2" lengthAdjust="spacingAndGlyphs">45</text><text class="k" x="599.7" y="962.0" textLength="51.2" lengthAdjust="spacingAndGlyphs">60</text><text class="k" x="741.5" y="962.0" textLength="51.2" lengthAdjust="spacingAndGlyphs">75</text><text class="k" x="883.4" y="962.0" textLength="51.2" lengthAdjust="spacingAndGlyphs">90</text><text class="k" x="1012.6" y="962.0" textLength="76.4" lengthAdjust="spacingAndGlyphs">105</text><text class="k" x="1154.4" y="962.0" textLength="76.4" lengthAdjust="spacingAndGlyphs">120</text><text class="k" x="1296.2" y="962.0" textLength="76.4" lengthAdjust="spacingAndGlyphs">135</text>
</g>
<g id="map2">
<text class="t" x="131.8" y="1073.5" textLength="1224.5" lengthAdjust="spacingAndGlyphs" xml:space="preserve">Ionosphere  (h=450.0 km), 2001-12-13 20:00 UT</text>
<g clip-path="url(#mc)" transform="translate(0 1098.5)">
<rect x="58.5" y="0" width="1371.0" height="675.0" fill="#000092"/>
<path fill="#0000bb" d="M58.5 0l1371 0 0 675-1371 0zM796 77l-34.5 4.5-19 3.5-11 3.5-8.5 6.5-4.5 5.5-3 7.5-0.5 23-1 8-2 7.5-5.5 11.5-7 11-4 3.5-7.5 3.5-15.5 4.5-4 2.5-1 2-0.5 4 1.5 2 4 1.5 4 0 11.5-3 7.5-0.5 19.5 2.5 62-3 30.5 0 27.5 4.5 30.5 2 11.5 1.5 27.5 6.5 23 10 27 0.5 31 5 23-1.5 11.5 0.5 23.5 3.5 50 4.5 7.5-1.5 7-4 24-26.5 8-6 15.5-10 3.5-4 1.5-4-0.5-3.5-2.5-4-14-15.5-7-11.5-4.5-11.5-4-15.5-3.5-7.5-8.5-8-7-3.5-8-2-11.5-2-11.5 0-50 3.5-19.5 0.5-23-2.5-46.5-8-23-2-66-1.5zM1344.5 103.5l-7.5 1.5-8 3-25.5 19.5-13 7.5-11.5 3.5-27 4-11.5 3.5-8 5-15.5 12.5-19 8-6.5 6-1 4 1 7.5 11 31 3 15.5 0 7.5-2.5 11.5-11 31-3 15.5 0 7.5 1.5 4 2 4 5.5 5 11.5 5.5 23 6.5 23 2.5 12-0.5 7.5-1 11.5-6 11-8.5 12.5-12 11.5-14.5 7.5-12.5 4-9.5 1.5-36 1-12 9-32 5.5-14 8-11.5 9.5-8 12-4 19-3 4-2 4-4.5 2-5.5 4-23.5-0.5-7.5-2-3.5-3.5-3-4-0.5-4 1-7.5 3.5-4 0.5-23-2.5z"/>
<path fill="#0000e3" d="M58.5 0l463.5 0 14.5 7.5 9 8 7.5 9.5 12.5 21.5 11 11.5 15 9.5 42.5 20.5 7.5 6 6 6.5 5.5 10 5.5 13 2.5 11.5 0.5 7.5-3.5 12-11.5 19-1.5 8 3 7.5 8 11.5 5 4 7.5 3.5 12 2 23 0.5 46.5 2.5 30.5 0 12 1.5 19 4 19.5-1.5 15.5 0.5 23 3.5 27 3 62 12 27 1.5 57.5 5.5 27.5 4.5 19 1.5 15.5-1 11.5-3.5 9.5-5.5 14-12 7.5-5.5 8-3 3.5-0.5 4 1 6.5 4.5 4.5 8 1.5 7.5-1.5 8-3.5 8-13.5 19-11 23-6 10.5-8 8.5-7.5 4.5-8 2.5-15.5 1-8 4-10 7.5-3.5 4-4 7.5 0 8 2.5 3.5 4 4 9 4 14 2.5 15.5 0.5 35 0 38.5 7 11.5 0.5 7.5-1 12-3.5 35-14 26.5-8 15.5-7.5 10-7.5 9.5-9.5 7.5-9.5 8-13 6-14 4.5-12 6.5-34.5 3.5-11.5 5-11.5 5-9 8-9.5 7.5-5.5 8-4 15.5-5 7.5-4.5 8-7 3.5-5 4-7.5 0 512-1371 0zM908 453.5l-8.5 5.5-6.5 7.5-3.5 8-0.5 7.5 5 8 6.5 5 7.5 3 8 0 7.5-3 6-5 2-4.5 0.5-7-2-8-3-7.5-2-4-3.5-4-5.5-2.5zM1198 431.5l-8 5.5-17.5 18-9.5 6.5-7.5 2.5-31 3-19.5 4.5-15.5 5-27 11-19 6.5-8 3.5-4.5 4-2.5 4-1.5 3.5 1 8 1.5 3.5 3.5 4 6.5 5 7.5 3 8 1.5 31 3.5 34.5 1.5 23-2.5 35-8.5 38.5-7 12-4 5.5-4 4-4 3-7.5-1-11.5-5-31-3-10-4-8-3.5-5-8-6-7.5-1.5-8 1.5zM909 601.5l-3.5 4-1 4 0.5 4 2 3.5 3.5 4 6.5 4 6.5 1.5 8-1 5-4.5 2.5-4 1-3.5-1-4.5-4-6-3.5-2.5-8-2-7.5 0.5zM1429.5 0l0 26.5-2-15z"/>
<path fill="#0000ff" d="M251.5 4l93 0.5 88.5 8.5 31 5 15.5 5 15.5 6.5 15.5 9.5 15.5 12.5 63 56.5 9.5 11.5 22.5 35 3.5 7.5 3.5 19.5 5 7.5 20 22.5 8 4.5 7.5 3 12 2.5 11.5 1.5 61.5 2.5 23.5 0 30.5 4 35 0.5 15.5 2 42.5 7.5 15.5 4.5 23 9 8 1.5 50 6 46.5 9.5 50 6 15.5 4 6 5.5 1.5 4 0 3.5-2.5 8-5 5-8 4-38.5 1-19 2.5-27 5.5-27.5 1.5-7.5 3-5.5 4.5-4 7.5-0.5 4 3 7.5 7 8.5 20.5 15 6 7.5 4 7.5 1.5 8-1 7.5-2 4-6 5.5-19 8.5-15.5 11.5-11.5 5.5-15.5 2.5-11.5-0.5-15.5-2-11.5 1.5-15.5 5.5-19.5 11-7.5 3-15.5 3-27 0-8 2.5-4 3.5-5 8.5-1 7.5 1.5 4 2 4 17.5 15.5 4.5 7.5 1.5 7.5-1 4-4.5 8-9 7.5-20 11.5-17 8.5-27 11-32.5 19-10 8-7.5 7.5-5 8-1 3.5-0.5 4 2 5.5 4 4 8 4 23 7.5 33 6 32.5 4 58 4.5 42.5 5 19.5 1 34.5-1.5 38.5-6.5 12-1 38.5 1 19.5-1 39-5.5 29-7.5 22-8 7.5-4 4-3.5 1-4 1-23 3-8 2.5-3.5 4-4 11-8 22-11.5 16-4.5 42.5-6.5 11.5-1 23 0 12-1.5 15-4.5 15.5-8 6-4.5 3-4 1.5-4-0.5-4-2.5-3.5-3.5-4-6-4-5.5-2-23-3-15.5-5-15.5-10-10.5-10.5-5.5-12-4.5-19-5.5-31 0-7.5 1-8 6-11.5 11-11.5 6.5-4 20.5-8.5 12-6 11-8.5 8-8.5 11.5-17 9-17 8.5-23 10-35 7.5-16 5.5-7 6-6 7.5-5 15.5-7.5 8-5.5 6-7 5.5-9 0 487.5-1371 0 0-536 5-11.5 6.5-23.5 7-19 2-11.5 1.5-23.5 1.5-3.5 3-4 6.5-4 25-6.5 32.5-12.5 17.5-6 19.5-4.5 19.5-2.5zM1337 613l-8 1-7 3-4.5 4.5-3.5 7 0 8 1.5 4 6 6.5 7.5 4 11.5 2.5 15.5 2 15.5 0 15.5-1 11.5-2 8-3 6.5-5.5 2-3.5 0.5-4-1-4-2.5-4-9.5-7.5-8-3-7.5-1.5-27-0.5z"/>
<path fill="#001dff" d="M224 27l23.5-2.5 31-1 35 0 27 1 27 2 38.5 5.5 31 3 15.5 3 19 5.5 19.5 8 19.5 13 14.5 12.5 35.5 34 15.5 16.5 11.5 14 8.5 13 12.5 23 8.5 11.5 15.5 15.5 5.5 7.5 7.5 6 10 5.5 17 6.5 23 3.5 77.5 1.5 38.5 4 38.5 2 35 6.5 19.5 7 7.5 4 15.5 11.5 18 7.5 6.5 4 5 4 2 4-0.5 3.5-2.5 4-9 8.5-20 11-15 15-7.5 5-12 3-23 1-31 8.5-27 1-8.5 5-3.5 3.5-1.5 4 1 4 3.5 4 9 3.5 31 0.5 27 3.5 16-4 22.5-10 8-1 15.5 2 11.5 3 7.5 4.5 4 3.5 4.5 6 1.5 3.5 0.5 4-1 4-5.5 8-4 3.5-7.5 4.5-35 10-54 18-11.5 2-23 2-8 1.5-8.5 4.5-26 18-8 3.5-18.5 5.5-8 7.5-4 8-0.5 3.5 1 4 2.5 4 10 7.5 2 4-2 4-5.5 3.5-19.5 6-24.5 9.5-41 12-62 24.5-15.5 5.5-50 9-38.5 5.5-15.5 4-11.5 5-8 5-33 26-9.5 5-7.5 2.5-15.5 1.5-73.5-2-34.5 2-50.5 0-11.5-2.5-7.5-3.5-10.5-7-16.5-15-11-8-8.5-4.5-11.5-4-19.5-2.5-34.5 0.5-46.5-1 0-429.5 7.5-11.5 12-10 11.5-6 23-8.5 12-9 6-7.5 4.5-8 19.5-42.5 5-7.5 7.5-7.5 7.5-5.5 15.5-6 15.5-4.5zM1429.5 210.5l0 381-27-6.5-31-3-8-3.5-3.5-4-1.5-3.5 0.5-4 2-4 6.5-6 8-2.5 19-1 8-1.5 7.5-3 7.5-5 4.5-5.5 2-6-1-8-2-4-3.5-3.5-12-8-9.5-3.5-36-6-42.5-11-14-6.5-10.5-7.5-3.5-4-5-7.5-4-11.5-1-15.5 1.5-19.5 2.5-7.5 4.5-8 10-10.5 19.5-13 11.5-9 8-8.5 8-13 11.5-23 9-23 12-35 9.5-18 4-5 3.5-3 19.5-12.5z"/>
<path fill="#0041ff" d="M275.5 42.5l18.5-1.5 23.5-0.5 57.5 3.5 31 4 35 3.5 19 4.5 19.5 7.5 15.5 9 15 12.5 58.5 60 14 17 13 23 14 15.5 24.5 21 15.5 9 11.5 5 15.5 5 19 2.5 73.5 0.5 77.5 6 30.5 6.5 12 4 7.5 4 9 6 17.5 15.5 3.5 4 0.5 3.5-6 8-20.5 17.5-11.5 5.5-42.5 10.5-39 6.5-30.5 12.5-27 4-8 5-2 4 0.5 4 3.5 3.5 9.5 4 23.5 2.5 65.5 11 23 0 11.5 1 4 1 6 4 1.5 3.5-1 4-3 4-3.5 2.5-7.5 3.5-66 16-11.5 6-23 15.5-15.5 6.5-34.5 9.5-28 2-9 4-21 12-31 14.5-73.5 27-19.5 5-15 2.5-46.5 0.5-27 3.5-23.5 5-42 12-15.5 3.5-15.5 1.5-19.5-0.5-46.5-6-50-2.5-116-15.5-34.5 0-11.5-2.5-8-3.5-11.5-8.5 0-328 11.5-22.5 8-7 11.5-4.5 19.5-2.5 7.5-1.5 10.5-6 8.5-7.5 15.5-18.5 31-45 8-8.5 7.5-6.5 15.5-9 19.5-7zM1429.5 227l0 278-15.5-7.5-11.5-3.5-62.5-12-11-3-7.5-3.5-11.5-8.5-6-8-3.5-7.5-1-12 0.5-7.5 2.5-7.5 6.5-12 7.5-7.5 22.5-19.5 6.5-7.5 8-11.5 12.5-27 13.5-38 11.5-28.5 7.5-10 19.5-18.5z"/>
<path fill="#0064ff" d="M298.5 58l30.5-2 46 1.5 58 6 15.5 3 15.5 5 19.5 9.5 10 7.5 9 9 54 60.5 8.5 11.5 12 19.5 6.5 7.5 29 23.5 21.5 13 15.5 7.5 15.5 6 11.5 3 15.5 2.5 15.5 1 38.5-2 23 0.5 69.5 6 23.5 4 19 6.5 11.5 7 6 6.5 2.5 4 1.5 7.5-1 4-4.5 7.5-3.5 4-5.5 4-7 3-38.5 10.5-38.5 8-35 11-29.5 6-22.5 7.5-8 4-2.5 4 1 4 3.5 3.5 5.5 4 10 5 11.5 3.5 18.5 3 28 7.5 11.5 1 15.5-0.5 5.5 3.5 2.5 4-0.5 4-3.5 4.5-5.5 3-14 5-27 19.5-7.5 4.5-11.5 4.5-19.5 3.5-42 5.5-35.5 9-65.5 12-9 2-29.5 10.5-19.5 4.5-11.5 2-31 2-11.5 2-92.5 26.5-27 5.5-19.5 0-131-11-31-3.5-27-2-31-4.5-19.5 1.5-11.5 0-11.5-2.5-11.5-5-4-2.5 0-292.5 15.5-23 4.5-5 7-5.5 11.5-4 19.5-4 7.5-2 8-3.5 12-8 12.5-11.5 29.5-37 11.5-11 11.5-8 23.5-13.5 16.5-7.5 22-6.5zM1429.5 245.5l0 247.5-11.5-6-11.5-4-62-13.5-9-3-6.5-3.5-6.5-8-2-3.5-1.5-8 1-7.5 5-9.5 8-8 24-21 7-8 5-7.5 5.5-11.5 11-31 5.5-23 3.5-10 10.5-21 13-19z"/>
<path fill="#0088ff" d="M306 73.5l15-2.5 19.5-1.5 42.5 1 46 4.5 15.5 3 15.5 5 8 3.5 9.5 6 9 8 7 7.5 37.5 46.5 4.5 7.5 11 23 10 11.5 15 12 31.5 20 15.5 8.5 38.5 16.5 15.5 4.5 15.5 3 19.5 1 42.5-2.5 11.5 0 65.5 5.5 27 4 19.5 6.5 7.5 5 4.5 5 1.5 4-0.5 7.5-1.5 4-3.5 3.5-6.5 4-5.5 2-69.5 16.5-38.5 11.5-58 10.5-7.5 2-4 3.5-4 8 0 8 4 9 7.5 7.5 8 4.5 11.5 4.5 11.5 3 19.5 2.5 7.5 2.5 8 5 3 3.5 1 4-0.5 4-5 7.5-6.5 5-11.5 4.5-65.5 11-42.5 8-58 5.5-31 10-15.5 3.5-27 4-35 3.5-10.5 3-28 10.5-23 7-31 7-27 4.5-7.5 0-27-4.5-27.5 0.5-42.5-3-46-0.5-46.5-2-34.5-3.5-31 0.5-15.5-2.5-15.5-6 0-271 23-24 12-8.5 11.5-4.5 32.5-8.5 10-4.5 11-7 11.5-11.5 20.5-27 8-8 10.5-7 23.5-10.5 30.5-15.5 23.5-8.5zM1429.5 270l0 211-15.5-8.5-23-7-23.5-10.5-12-7.5-2-4 0-4 4.5-7.5 8.5-7.5 26-19.5 29.5-35 4-7.5 3-7.5 0.5-4-11.5-23-2.5-11.5 1-8 3-11.5z"/>
<path fill="#00adff" d="M325 85l15.5-2 19-1 27.5 0.5 23 2 15.5 2 15.5 3.5 11.5 4 11.5 5 7.5 6 9.5 10.5 10.5 15.5 12.5 23.5 3.5 7.5 1.5 7.5-1.5 15.5 0.5 8 4 7.5 6 4.5 58 25.5 19.5 10 14 6.5 51.5 18 27 6 19.5 1 38.5-3 15.5 0 38.5 2.5 27 3 30.5 7 10.5 4 4 4 1.5 3.5-1 4-2.5 4-4.5 1-19 4-27 8-31 7-27 9.5-46.5 7-19.5 5.5-8 4-7 8-3 7.5-1 10 2 9.5 3.5 7.5 6 7 5.5 4.5 13.5 8 4.5 3.5 3 4 0.5 4-2.5 4-5 3.5-12 4.5-61.5 11.5-50.5 5-11.5 2.5-38.5 10-65.5 9-39 14.5-30.5 7-19.5 3-19.5 0-27-3.5-15-1-89 2-42.5 2-19.5 0-81-4-15.5-3-11.5-4.5 0-249 7.5-8.5 15.5-12.5 19.5-12.5 15.5-6 19-3.5 12-3 11.5-5 9.5-5.5 6-4.5 6-7 18-27 7-7 7.5-5.5 7.5-4 50.5-20.5 34.5-12.5zM1429.5 403l0 62.5-14-14-4.5-8-1-4 0.5-3.5 2.5-8z"/>
<path fill="#00cdff" d="M347 96.5l47.5-0.5 19.5 2 11.5 2.5 15.5 5 11.5 5.5 6 4.5 6.5 8 4 7.5 4.5 11.5 1.5 12-1 19-3 11.5-6.5 15.5-0.5 4 1 4 2.5 3.5 4 4.5 12 7 7.5 4 11.5 3.5 19.5 4 61.5 20 42.5 10.5 46.5 13 19.5 3.5 11.5 0.5 15.5 0 34.5-2.5 54 3 10 2.5 6.5 4 2 3.5-1 4-3 4-6 3.5-4.5 2-27 4-31 13.5-23 1-11.5 2-31 10.5-7.5 4.5-5.5 5-5 8-3 7.5-1.5 8-0.5 11.5 5 23 0 7.5-2.5 4-6.5 4.5-11.5 5.5-11.5 3-54.5 7.5-57.5 14.5-50.5 7.5-15.5 4-34.5 13-27 5.5-15.5 1.5-15.5-0.5-27-4.5-50.5-0.5-27 1.5-42.5-0.5-38.5 4.5-11.5 0-27-2.5-31 0-19-2-19.5-3-12-5-3.5-3.5 0-51 8.5-11 1.5-4 2-7.5-1.5-11.5-7.5-19.5-3-10 0-103.5 4-7.5 3.5-4.5 8-6.5 11.5-7.5 11.5-5.5 27-9.5 35-7.5 15.5-6.5 9.5-5 6-4.5 5.5-7 7.5-19.5 6-11 4.5-4.5 7-5 8-3.5 23-7 38.5-14 27.5-10.5 15-4z"/>
<path fill="#09f1ee" d="M337.5 115.5l18.5-1.5 38.5 0 11.5 1 11.5 3 11 5.5 8.5 6.5 4 5 5 11.5 2 11.5-0.5 15.5-3 9-3.5 3-8 1.5-23-4-11.5 0.5-5.5 1.5-6 4-3.5 4-1.5 3.5-0.5 4 3.5 8 8 7.5 12.5 7.5 31.5 9 11.5 4 15.5 6.5 11.5 7.5 8 2.5 38.5 7.5 31 5 27 6 38.5 6 50 13 35 6.5 12 4 4 3.5-1 4-3.5 4-11 7.5-20 8.5-7.5 4.5-10.5 10.5-7 11.5-4.5 11.5-6.5 34.5-4.5 8-5.5 4.5-12 3.5-50 9.5-50 14.5-39 6-15.5 3-11.5 4-27 11-15.5 4.5-23 4-15.5 0.5-34.5-4.5-35-0.5-19.5-1.5-27 0.5-34.5-3.5-15.5-0.5-15.5 1-23 3.5-31-5-23 0-9.5-0.5-14-4-9-4-5.5-3.5-4.5-7.5-0.5-4.5 5.5-7.5 14-13 3.5-6.5 1-3.5-1-8-3-7.5-21.5-35-3.5-7.5-1.5-7.5-3-39-0.5-42 0.5-8 4-7.5 9.5-8.5 8-3.5 11.5-4.5 42.5-10.5 31-4 23-5 11.5-0.5 23.5 2.5 30.5-5 12 2 15.5 6 18.5 4 16 1.5 7.5-2 5.5-3.5 3-4 1.5-3.5 0-8-1.5-7.5-2-4-3.5-4-5.5-3.5-9-3-7.5-0.5-8 1-15.5 5.5-3.5 1-8-0.5-9.5-3.5-25-13.5-15.5-4.5-2-1.5-2-4 4-4 15.5-1 7.5-2 35-17.5 38.5-14.5z"/>
<path fill="#26ffd1" d="M193.5 227.5l69.5-2 46.5 5 11.5 1 11.5-1 27-4.5 12 1 11.5 3.5 23 10 31 9.5 11.5 6 15.5 10 4 1.5 31 4.5 23 5 27 2.5 31 6.5 23 2.5 15.5 2.5 19.5 6 18.5 7.5 6 4 3.5 4 0.5 4-2.5 7.5-17.5 31-15.5 34.5-5 6-3.5 3-11.5 5.5-35 9-50 17-39 7-15.5 3.5-11.5 4-31.5 14.5-22.5 5.5-15.5 1.5-11.5 0-31-3.5-42.5-1-30.5-1.5-15.5-2-27-6.5-27-10-11.5-5.5-8-7-11.5-12.5-19.5-10-7.5-4.5-12-9.5-16-14.5-14.5-11.5-10.5-11.5-5.5-11.5-2.5-12-4-54 0.5-7.5 1.5-7.5 5-7.5 5.5-4.5 9-3.5 35.5-10.5 27-6z"/>
<path fill="#43ffb4" d="M213.5 239l49.5-2.5 50.5 3 42.5-2 15.5 1.5 11.5 3 22 8.5 24 8 28 15.5 10 3.5 55 10 23 3.5 35 7.5 23 3 15.5 4 14.5 7 8.5 7 2.5 4.5 0 7.5-21.5 40-8 9.5-7.5 5.5-11.5 5.5-66 24-58 14.5-15 6.5-27.5 14-11.5 4.5-15.5 3-15 0.5-42.5-3.5-50.5-1.5-22.5-2.5-13-4-16-8-21.5-15-29.5-23.5-36.5-20.5-32-22-6.5-5-4-5-6-13-3.5-23 0-23 2.5-12 3-5.5 4-4 7.5-5.5 7-4 16.5-7 14.5-4.5 20-4.5z"/>
<path fill="#60ff97" d="M282.5 245.5l38.5 2 31-2 11.5 1 11.5 2.5 46.5 15.5 31 16 11.5 4.5 62 13 73 16.5 12.5 5.5 7 6.5 3 5-1 8-4.5 11.5-8 11.5-8 8-8.5 5.5-62 26.5-46 13-15.5 5.5-15.5 7.5-25 15-13.5 6-12 2.5-11.5 0.5-42.5-3.5-50-1-19.5-3-13-5.5-11-7.5-26-28-11.5-10.5-12-8-42-22-18-12.5-8.5-7.5-5.5-8-3.5-7.5-2.5-11.5 0.5-15.5 2-8 4-7.5 4-5.5 6.5-6 12-8 16.5-7 11.5-2.5 50.5-8z"/>
<path fill="#7dff7a" d="M271 254.5l19-0.5 31 1.5 31-1.5 11.5 1 15.5 3.5 38.5 13 31 16 15.5 5.5 38.5 10.5 19.5 4.5 27 9.5 11.5 2 19.5 2 5 2.5 5 4 2.5 3.5 2 4 0 8-3 7-3.5 4.5-9.5 7.5-29.5 12.5-29 14.5-33 10.5-15.5 6.5-19 10-31 21-11.5 5.5-8 2-7.5 0-62-4.5-38.5 0-6.5-1-12.5-6-9.5-9-6.5-12-6-19-5.5-8-15-10-39-17-20.5-11.5-9-7.5-5.5-8-3-7.5-1.5-7.5 0.5-12 3.5-11.5 6.5-7.5 10.5-8 18.5-7 35-9 19-4z"/>
<path fill="#97ff60" d="M282 262.5l12-0.5 31 1.5 23-1.5 11.5 0.5 19.5 3.5 27 8.5 15.5 7 23 13 30 10 32.5 15.5 6.5 4 7.5 7.5 2 4 0.5 4-0.5 4-10.5 19-7.5 8-12 7.5-25 11.5-8 4.5-11.5 8.5-30.5 25.5-12 7-11.5 1-27-3-19.5-0.5-23-3-27 1-8-1-6.5-5-2.5-4-1-8 1-3.5 2.5-4 4.5-4 21-7.5 7-4 3-4-2.5-3.5-10.5-8-12-5.5-11.5-3-23-3.5-12-3-15-5.5-22-10-9-5.5-7.5-6.5-5.5-7.5-2-7.5 0-8 3-7.5 7-8 5.5-3.5 44-19.5 17-5z"/>
<path fill="#b4ff43" d="M293 270l32 1.5 23-1.5 11.5 0.5 19.5 3.5 27 8.5 8 3.5 23 16 11.5 5 15.5 4 9 5.5 8 7.5 4.5 7.5 1.5 8-2.5 7.5-5 7.5-8 6-29 13.5-5.5 4-4 5-7.5 14.5-4 5.5-7.5 8-8 5-7.5 3.5-8 0.5-11.5-2-11.5-3.5-4-2-4-3.5-1-4 4-23-0.5-4-2.5-4-4.5-3.5-10-4-20-2.5-38.5-13-23.5-4.5-10-3-14-8-18.5-15.5-3-3.5-0.5-4 2-4 20.5-19 8-6.5 11-5.5 8.5-3 15.5-3.5zM400 358.5l-2 4 2.5 4 9.5 1.5 5-1.5 2-4-2.5-4-4.5-2-4 0z"/>
<path fill="#d1ff26" d="M280 281.5l22-3 23 1 23-1.5 15.5 1 15.5 4 21 6.5 8 3.5 6.5 8 6.5 11.5 2.5 7.5-1 4-3.5 4-6.5 3.5-33.5 14.5-7.5 2.5-39 3-11.5-0.5-11.5-2.5-19.5-8-19-5-10-4-11-7.5-5.5-7.5-1-4 1-4 8-11.5 10.5-8.5 8-4z"/>
<path fill="#eeff09" d="M289 289.5l9-2.5 11.5-1 35 0 19 2 11.5 4 8.5 5 4 4 2 3.5 0 8-2.5 7.5-4 5.5-7 6-8.5 4.5-8 2.5-23 3.5-11.5 0.5-11.5-1.5-34.5-13-6.5-4-4-4-2.5-3.5-1-4 0-4 4.5-7.5 9-7.5z"/>
<path fill="#ffde00" d="M317 293l30.5 0 12 4 6.5 4 3.5 3.5 2 4 0 4-0.5 4-6.5 7.5-5.5 4-11 4-15.5 3-11.5 0-11.5-3-19-8-4.5-4-2.5-3.5-1-4 1-4 3-4 4-3.5 7.5-4 7.5-2.5z"/>
<path fill="#ffc100" d="M320 301l9-1 7.5 0.5 11.5 3.5 5 4.5 1 4-1 4-3.5 3.5-6.5 4-14 4-4 0-12-4-7.5-4-4-3.5-1-4 1.5-4 6-4z"/>
<use href="#coast"/>
</g>
<rect class="f" x="58.5" y="1098.5" width="1371.0" height="675.0"/>
<rect x="58.30" y="1817.0" width="47.68" height="67.5" fill="#000092"/><rect x="105.58" y="1817.0" width="47.68" height="67.5" fill="#0000bb"/><rect x="152.85" y="1817.0" width="47.68" height="67.5" fill="#0000e3"/><rect x="200.13" y="1817.0" width="47.68" height="67.5" fill="#0000ff"/><rect x="247.40" y="1817.0" width="47.68" height="67.5" fill="#001dff"/><rect x="294.68" y="1817.0" width="47.68" height="67.5" fill="#0041ff"/><rect x="341.96" y="1817.0" width="47.68" height="67.5" fill="#0064ff"/><rect x="389.23" y="1817.0" width="47.68" height="67.5" fill="#0088ff"/><rect x="436.51" y="1817.0" width="47.68" height="67.5" fill="#00adff"/><rect x="483.78" y="1817.0" width="47.68" height="67.5" fill="#00cdff"/><rect x="531.06" y="1817.0" width="47.68" height="67.5" fill="#09f1ee"/><rect x="578.33" y="1817.0" width="47.68" height="67.5" fill="#26ffd1"/><rect x="625.61" y="1817.0" width="47.68" height="67.5" fill="#43ffb4"/><rect x="672.89" y="1817.0" width="47.68" height="67.5" fill="#60ff97"/><rect x="720.16" y="1817.0" width="47.68" height="67.5" fill="#7dff7a"/><rect x="767.44" y="1817.0" width="47.68" height="67.5" fill="#97ff60"/><rect x="814.71" y="1817.0" width="47.68" height="67.5" fill="#b4ff43"/><rect x="861.99" y="1817.0" width="47.68" height="67.5" fill="#d1ff26"/><rect x="909.27" y="1817.0" width="47.68" height="67.5" fill="#eeff09"/><rect x="956.54" y="1817.0" width="47.68" height="67.5" fill="#ffde00"/><rect x="1003.82" y="1817.0" width="47.68" height="67.5" fill="#ffc100"/><rect x="1051.09" y="1817.0" width="47.68" height="67.5" fill="#ff9f00"/><rect x="1098.37" y="1817.0" width="47.68" height="67.5" fill="#ff7e00"/><rect x="1145.64" y="1817.0" width="47.68" height="67.5" fill="#ff5d00"/><rect x="1192.92" y="1817.0" width="47.68" height="67.5" fill="#ff3b00"/><rect x="1240.20" y="1817.0" width="47.68" height="67.5" fill="#ff1a00"/><rect x="1287.47" y="1817.0" width="47.68" height="67.5" fill="#e40000"/><rect x="1334.75" y="1817.0" width="47.68" height="67.5" fill="#bb0000"/><rect x="1382.02" y="1817.0" width="47.68" height="67.5" fill="#920000"/>
<rect class="f" x="58.5" y="1817.0" width="1371.0" height="67.5"/>
<path class="tk" d="M58.5 1884.5v14.6M200.3 1884.5v14.6M342.2 1884.5v14.6M484.0 1884.5v14.6M625.8 1884.5v14.6M767.6 1884.5v14.6M909.5 1884.5v14.6M1051.3 1884.5v14.6M1193.1 1884.5v14.6M1334.9 1884.5v14.6"/>
<text class="k" x="45.0" y="1947.0" textLength="26.0" lengthAdjust="spacingAndGlyphs">0</text><text class="k" x="174.2" y="1947.0" textLength="51.2" lengthAdjust="spacingAndGlyphs">15</text><text class="k" x="316.1" y="1947.0" textLength="51.2" lengthAdjust="spacingAndGlyphs">30</text><text class="k" x="457.9" y="1947.0" textLength="51.2" lengthAdjust="spacingAndGlyphs">45</text><text class="k" x="599.7" y="1947.0" textLength="51.2" lengthAdjust="spacingAndGlyphs">60</text><text class="k" x="741.5" y="1947.0" textLength="51.2" lengthAdjust="spacingAndGlyphs">75</text><text class="k" x="883.4" y="1947.0" textLength="51.2" lengthAdjust="spacingAndGlyphs">90</text><text class="k" x="1012.6" y="1947.0" textLength="76.4" lengthAdjust="spacingAndGlyphs">105</text><text class="k" x="1154.4" y="1947.0" textLength="76.4" lengthAdjust="spacingAndGlyphs">120</text><text class="k" x="1296.2" y="1947.0" textLength="76.4" lengthAdjust="spacingAndGlyphs">135</text>
</g>
<g id="map3">
<text class="t" x="87.5" y="2058.5" textLength="1313.0" lengthAdjust="spacingAndGlyphs" xml:space="preserve">Plasmasphere (h=1500.0 km), 2001-12-13 20:00 UT</text>
<g clip-path="url(#mc)" transform="translate(0 2083.5)">
<rect x="58.5" y="0" width="1371.0" height="675.0" fill="#0000a8"/>
<path fill="#0000fa" d="M58.5 0l1371 0 0 675-1371 0zM278.5 115l-50 10-8 2.5-9 3.5-6 5-4.5 6.5-0.5 8 3 7.5 5.5 5.5 5.5 2.5 6 1.5 12 1 19-2 11.5 0.5 23.5 6.5 34.5 4.5 27 7 27-9.5 12-2 19-1 23-5 12 0 19 3 10-1 11-3.5 7-4 7-6 2-5.5-0.5-4-2-4-7-7.5-5.5-4-17-7.5-20.5-4.5-30.5-5-23.5-1.5-42.5 1.5-46-1zM780.5 7.5l-54 8.5-38.5-1.5-19.5 1-9.5 4-11.5 7.5-3 4-1.5 3.5 0.5 4 6 4 19 2 15.5 5 27 2.5 39-1.5 30.5 1 50.5-2 46 1 12-1.5 19-4.5 19.5 3.5 4.5-1.5 3-4 1-4-0.5-4-2.5-3.5-4-4-12.5-7.5-12-5-12-1-27 3-27-5-27 1-23-5z"/>
<path fill="#0034ff" d="M317.5 10.5l84.5 1 35-2 11.5 0.5 15.5 3 11.5 4.5 11.5 7.5 8 9.5 12 23.5 3.5 4 7.5 5 8 2.5 54 11 31 9.5 19 5 8 3.5 3.5 4 2 5.5-2.5 15.5 0.5 4 1.5 3.5 6.5 5.5 11.5 2.5 15.5-2 15.5-5.5 46-30 8-3.5 7.5-2.5 58-5.5 58-3 35-0.5 23 2 11.5 2 11.5 3.5 35 15 15.5 2.5 34.5 2 42.5-0.5 81 1 77.5-3.5 88.5-2.5 4-1 6-3 2-3.5 0.5-4-2-8-12-19-4-11.5-0.5-11.5 3-8 3-4.5 8-6 7.5-3.5 15.5-5 15.5-3.5 27-3 31 0.5 0 661.5-1371 0 0-661.5zM259.5 77l-46.5 5-23 5-12 4-11.5 5.5-12.5 7.5-10 8-15.5 15.5-20 26-12.5 12.5-5.5 7.5-3.5 11.5-0.5 11.5 1.5 12 5.5 9.5 6.5 5.5 5 2.5 7.5 2.5 11.5 2 23.5 1 27-2.5 15.5 0.5 11-2 6.5-4 5.5-5.5 5-9.5 5.5-8 6-4 6.5-1.5 50.5-1.5 27 4 11.5 0.5 19.5-2 27-1 27-6 11.5-1 10.5 1 28 4.5 11.5 0.5 15.5-1.5 19.5-6 54.5-24.5 13.5-7.5 4.5-4 3-4 2-4 0-3.5-1-4-3-4.5-8-6-11.5-6-27-7.5-8-6-15-16-8-4.5-7.5-2-54.5-5-46-2.5-73.5 0z"/>
<path fill="#0081ff" d="M876 119.5l28.5-2 19 1 11.5 2.5 42.5 14.5 15.5 3.5 19.5 2 42.5 1.5 50-0.5 50.5 2 42.5-1 50 0.5 85 7 50 1 27-1 8 1.5 7.5 5 3 5 1 4-5.5 19-2 11.5 1.5 12 6 21 0 445.5-1371 0 0-409 4 1.5 7.5 1 65.5-6 15.5 1 27 2.5 46.5-3.5 11.5-3.5 31-15.5 23-6 23.5-8.5 19-3 15.5 0 11.5-5 35-3.5 19.5 0 27 3 23-2 27-8.5 31-15.5 65.5-19 23.5-4.5 84.5-9 27.5-5.5 32.5-2 75.5-24.5 27-7z"/>
<path fill="#00c8ff" d="M910 150.5l21.5 1 42.5 10 23 4 77 8 12 0 46-4 50.5-2.5 19 0.5 23.5 2 65.5 11.5 42.5 4 15.5 3 11.5 3.5 11 5 8.5 6 7.5 6.5 4 4.5 3 6.5 14 38.5 6 13.5 8 12.5 7.5 7.5 0 383-1371 0 0-372.5 11.5-3 27-13 15.5-5 11.5-1.5 11.5 0 42.5 3.5 39-2.5 19-4 27-9.5 27-8.5 31-6.5 46.5-3.5 50 2.5 15.5-0.5 11.5-2 12-3 27-10.5 36-15.5 18-9 38-14.5 8-2 54.5-8.5 38.5-7.5 31-4 19-1.5 31 0 54-4.5 81-16z"/>
<path fill="#23ffd4" d="M887 185l21 0 19.5 1.5 46.5 6 15 3 14.5 5 15.5 8 9 6 11.5 11.5 4 2 3.5 0.5 8-1 27-6 23-6.5 8-3.5 25.5-15 9-3.5 8-1.5 11.5-1 15.5 2 21.5 4 10.5 4 3 4 0 4-1.5 3.5-13 19.5-2.5 7.5-1 11.5 2 12 3 7.5 5 8 7 7.5 8.5 6 11.5 6 15.5 6 34.5 10.5 12 6 6.5 8 9.5 23 7 12 11.5 12.5 7.5 6 12 7.5 19 8.5 35 10 11.5 2 11.5-1.5 0 267-1371 0 0-283.5 4.5-9.5 10-31 7.5-15.5 8-11.5 9.5-11.5 8-8 5.5-3.5 9-3.5 7.5-0.5 65.5-0.5 27-2.5 15.5-3.5 39-12.5 34.5-9 15.5-2 46.5-1 34.5 4 15.5 0.5 23 0 12-1 10-3.5 32.5-17.5 38.5-17.5 15.5-6.5 26.5-8.5 16-6.5 23-6.5 19.5-3 50-11 19.5-2 42.5-1 46 3.5 31 0zM1039.5 446l-23 12-15.5 5-35 4-34.5-1.5-6 1-8 4-20 15.5-5 5.5-3.5 6-2 8-2 11.5 1 7.5 3 8 6 7.5 5.5 4.5 7.5 4.5 11.5 3.5 39 7.5 27 1 23 2.5 15.5 0.5 50-2 54.5-10 19-6 14-6 11-7.5 5.5-8 2-7.5-1-4-8.5-14.5-2-12.5-2.5-7.5-2.5-4-4.5-4-11.5-3-34.5-4.5-12-4-19-4.5-27-9-8-1.5zM1340 258.5l4.5-1.5 8-0.5 7.5 1 4 1.5 8.5 7 3 4.5 3 7 0.5 8-2 7.5-3.5 8-6 7.5-3.5 3-8 3.5-7.5 0.5-12-3-7.5-5-4.5-6.5-0.5-8 3.5-19 5.5-10z"/>
<path fill="#5dff9a" d="M691 200.5l8.5-1 54 0 58 13.5 35 0 50 5.5 33 9 40.5 17.5 25 9.5 26 8 18.5 3.5 7.5 0 12-1.5 42-10.5 19.5-4 15.5 0 7.5 2.5 7.5 6 4.5 5.5 15 25.5 8 11.5 7.5 8.5 8 7 7.5 5 11.5 6 19.5 8.5 31 11 7.5 4 5 4 6.5 10 24.5 44 5.5 11.5 4 11.5 1.5 7.5 0 12-2 7.5-1.5 4-4.5 5.5-12 8-7.5 3-8 1-11.5 0-7.5-2.5-11.5-6-31-24-9.5-4.5-17.5-2.5-35-1.5-46-5.5-12-2-27-9.5-11.5-3.5-11.5-1-7.5 0.5-15.5 5.5-27 15-12 5-11.5 2-38.5 1-15.5 2.5-11.5 3.5-27 12-16 5.5-16.5 11.5-10.5 11.5-3.5 8-6.5 19-4 8-5 5.5-14 10-24.5 11-19.5 5.5-34.5 6.5-81 5.5-46.5 6-15.5-0.5-11.5-2.5-9-4.5-9-8-6.5-7.5-6.5-11.5-4-11.5-5-19.5-3.5-7.5-5.5-8-4.5-4-6.5-3.5-9-4-34.5-11.5-8.5-1.5-8 1.5-8.5 4-5.5 3.5-7.5 8-3.5 7.5-4.5 23-4.5 12-7.5 11.5-8 7.5-16 12-15.5 9-11.5 4-31 7-15 1-23.5-1.5-27 3-15.5-1-46-11.5-35-13.5-81-17-15.5-5-15.5-6.5 0-74.5 6.5-5.5 20.5-12.5 8-6.5 3.5-5 3.5-7 2-8 5-42 5-19.5 5-11.5 4.5-8 6-6.5 7.5-4.5 11.5-4 23.5-5.5 31-1.5 23-3.5 54-18 27-6.5 15.5-2.5 15.5-1 27 0.5 62 6.5 19 0.5 15.5-1 11.5-4 35-20 27-12 19.5-7.5 30.5-10 31-12.5 23.5-7.5 23-4zM1263 551.5l12-2 11.5-1 31 1.5 11.5 1.5 11.5 3.5 8 3.5 7.5 4.5 8 8 19 22 11.5 10 9.5 6.5 10 5 15.5 4 0 56.5-1371 0 0-55.5 31 5 15.5 2 34.5 1.5 35-1 38.5 7.5 27 3 19.5 0.5 88.5-0.5 46.5 2 166 14.5 23 1.5 436.5-3 42.5-1.5 27-4 11.5-3 9-3.5 14.5-9.5 23.5-21.5 15.5-11.5 34.5-16 23.5-15 29-11.5z"/>
<path fill="#9aff5d" d="M695.5 216l19.5-0.5 23 2.5 15.5 3.5 35 6 23 2 34 6 20 4 11.5 3.5 14 7.5 12 12 8.5 15 9 27 3 5.5 4 3 4 0 3.5-1 19.5-13.5 11.5-5.5 11.5-3 15.5-2 19.5-0.5 34.5 3 46.5-1 15.5 3 7.5 3.5 7.5 5 11 11.5 7 11.5 12.5 27 4.5 7.5 15.5 10 6 5.5 3.5 8-1 7.5-6.5 8-6 3.5-11.5 4-15.5 2-19-0.5-15.5-2-31-8-11.5-2-11.5-0.5-8 1-15.5 4.5-34.5 18.5-19.5 7-11.5 2.5-42.5 6-15.5 5-34.5 15.5-27 8-15.5 3.5-19.5 0.5-19 5.5-12 2-7.5 0-19.5-3.5-27 6.5-11.5-1-19.5-4-27 5-11.5-0.5-19-3-19.5 4-11.5 0.5-8-1-19-5-15.5 1-11.5 0-31-6.5-42.5-5.5-38.5-4-12-3-15.5-10-7.5-2.5-7.5 0.5-27 6-23.5-1-3.5 0.5-9.5 4.5-4 3.5-1.5 4 1.5 7.5 5 8 4.5 4.5 7.5 6 14.5 8.5 8 8 4.5 7.5-0.5 8-3 7-3.5 4.5-4.5 4.5-7.5 5-19.5 8.5-23 4.5-31 2.5-7.5-0.5-19.5-3-19.5-5-15.5-5.5-13.5-7-16-12-8-7.5-2.5-4-2-7.5-0.5-16.5-9-18.5-9-27-11-27-4.5-15-1.5-12 0.5-15 1.5-8 3-7.5 8.5-11.5 10.5-8 18.5-7.5 47-12 46-18.5 15.5-4 19.5-3.5 19-1.5 31 1 19.5 1.5 54 7.5 15.5 0 11.5-1.5 15.5-5.5 29-17.5 13.5-6.5 31-12 30.5-9.5 42.5-17 23.5-6.5z"/>
<path fill="#d4ff23" d="M668.5 235.5l27-1.5 23.5 2 34.5 7 19.5 6.5 11.5 2.5 31 4 23 4.5 11.5 3 12 4.5 8.5 6 6.5 8.5 19 41.5 8.5 13.5 7.5 9 4 3 7.5 3.5 8 0.5 11.5-4 11.5-9 16-16.5 9-7.5 6-3.5 11.5-1.5 15.5 0 27 2.5 11.5 2.5 10.5 3.5 7.5 4 10.5 7.5 5.5 8 1 4-0.5 3.5-4 4-8 4-26.5 7-7.5 3-15.5 9.5-27 19.5-11.5 7-31 6.5-27 8.5-19.5 4.5-11.5 5-23 13-8 3-27 6.5-27 4.5-58 2.5-38.5 0-19.5 1.5-57.5 1-58 0-116-11.5-15.5-4.5-27-10-27-3.5-15.5 1-31 6-27-2-11.5 0.5-7.5 1.5-4 1.5-4.5 3-9.5 12-1 3.5 1 4 3.5 4 30.5 23 7 6 5 9.5 0.5 7.5-1.5 4-3 4-5 3.5-11.5 5-11.5 1.5-19.5-1-15.5-2.5-16-6.5-6-4-4-4-2-7.5 1.5-15.5-10.5-11.5-1.5-4-2-15.5-1.5-3.5-5.5-8-25.5-30-6-8.5-5.5-11.5-2.5-11.5 1-11.5 5-12 8-8.5 7.5-5.5 9-5 60.5-27.5 15.5-6 27-6 15.5-1.5 15.5-0.5 27 2 34.5 4.5 27 6.5 12 1.5 7.5 0.5 11.5-1.5 11.5-3 12-4.5 34.5-21 11.5-5.5 73.5-23.5 35-13.5z"/>
<path fill="#ffdb00" d="M673.5 254.5l14.5 0 11.5 1.5 15.5 5.5 11.5 6.5 7 6 6 7.5 10.5 23 3.5 5.5 4 3 4 1 7.5 0 31-6 31-3.5 11.5 1.5 11.5 6.5 8 7 7.5 10 5 10 6 15.5 3 11.5 4.5 23-1.5 8-3.5 7.5-11 11.5-12.5 8-21 6.5-23 5-85 2-62 4.5-85 1-57.5-5.5-54.5-6.5-12-3.5-30.5-12-23-5-23 1-38.5 4.5-39 0.5-34.5 4.5-11.5-0.5-15.5-4-21-12-6-5-5.5-6.5-5-11.5-0.5-8 1.5-7.5 5-8 7.5-7.5 11.5-7.5 35.5-20.5 14-6.5 13-4.5 11.5-2.5 15.5-1.5 15.5-0.5 15.5 0.5 50 9.5 35 13 11.5 1.5 8-0.5 11.5-3.5 19-9 15.5-9 19.5-13 15.5-6.5 42.5-13.5 65.5-18.5 11.5-2.5z"/>
<path fill="#ff9400" d="M648 281.5l17-2 15.5 1 11.5 4 15 8.5 7.5 8 5 7.5 15 35 3.5 7 4 5 8 5.5 3.5 1 8-1.5 29-13.5 17-5 8-0.5 7.5 1 12 4.5 8.5 8 6.5 11.5 2 7.5 0.5 8-1.5 7.5-1.5 4-6 7.5-5 4-11.5 6-11.5 3-11.5 0.5-11.5-1-15.5-4-15.5-5.5-8-1-7.5 3-11.5 6.5-15.5 8-19.5 5.5-31 3.5-57.5 0-58-3.5-54-7-15.5-3.5-12-3.5-12-7-9.5-7.5-9.5-12-1-3.5 2-4 20-11.5 13-15.5 9-7.5 54-34 19-7.5 39-10.5zM301.5 320l23.5-2.5 23 1 21 5.5 20 7.5 13 8 7.5 7.5 4 8 7.5 19 0 4-2.5 4-5.5 3.5-7 3.5-15.5 2-27 6-42.5 5-42.5-1-11.5-1.5-15.5-5-12.5-9-5.5-7.5-1-7.5 1-4 6-8 13-11.5 21.5-15.5 13.5-7.5z"/>
<path fill="#ff5200" d="M611.5 308.5l41.5-3.5 15.5 0 15.5 4 7.5 3.5 4 3.5 5 8 4 11.5 3 15.5 1.5 15.5 3 15.5-1 11.5-3.5 7.5-3.5 4-5 4-7 3-23.5 2.5-34.5 1.5-54-2.5-39-5-30.5-6-13.5-5-6-4-3.5-4-3-7.5 0.5-8 1.5-3.5 9.5-12 10-7.5 16-8 19-13 12-6 15.5-5 27-7.5zM303.5 331.5l14-1.5 11.5 0 12.5 1.5 11 4 11.5 8 6 7.5 2 7.5-1.5 8-5.5 7.5-5 4-8 4.5-7.5 2-23.5 2.5-19 0.5-12-1-12.5-4.5-6.5-5.5-4-6-0.5-4 2-8 5-7.5 8-7.5 12.5-8.5z"/>
<path fill="#fa0f00" d="M597.5 331.5l21-3 19.5 0 15 2 12 4 6 5 5.5 7 6 16 4 8 0 3.5-2.5 8-3 3.5-5 4-11 5-19.5 3.5-23 0.5-19.5-1.5-48-7.5-21.5-5.5-5.5-2-5-4-2-4 0-3.5 3-4 30-19.5 16.5-7.5zM312 347l9 1 5.5 3 3 4-0.5 5-1.5 2.5-7.5 4-10.5 1-7.5-1-5-4-1-4 1-3.5 5-4.5 3.5-2z"/>
<use href="#coast"/>
</g>
<rect class="f" x="58.5" y="2083.5" width="1371.0" height="675.0"/>
<rect x="58.30" y="2802.0" width="98.33" height="67.5" fill="#0000a8"/><rect x="156.23" y="2802.0" width="98.33" height="67.5" fill="#0000fa"/><rect x="254.16" y="2802.0" width="98.33" height="67.5" fill="#0034ff"/><rect x="352.09" y="2802.0" width="98.33" height="67.5" fill="#0081ff"/><rect x="450.01" y="2802.0" width="98.33" height="67.5" fill="#00c8ff"/><rect x="547.94" y="2802.0" width="98.33" height="67.5" fill="#23ffd4"/><rect x="645.87" y="2802.0" width="98.33" height="67.5" fill="#5dff9a"/><rect x="743.80" y="2802.0" width="98.33" height="67.5" fill="#9aff5d"/><rect x="841.73" y="2802.0" width="98.33" height="67.5" fill="#d4ff23"/><rect x="939.66" y="2802.0" width="98.33" height="67.5" fill="#ffdb00"/><rect x="1037.59" y="2802.0" width="98.33" height="67.5" fill="#ff9400"/><rect x="1135.51" y="2802.0" width="98.33" height="67.5" fill="#ff5200"/><rect x="1233.44" y="2802.0" width="98.33" height="67.5" fill="#fa0f00"/><rect x="1331.37" y="2802.0" width="98.33" height="67.5" fill="#a80000"/>
<rect class="f" x="58.5" y="2802.0" width="1371.0" height="67.5"/>
<path class="tk" d="M58.5 2869.5v14.6M254.4 2869.5v14.6M450.2 2869.5v14.6M646.1 2869.5v14.6M841.9 2869.5v14.6M1037.8 2869.5v14.6M1233.6 2869.5v14.6M1429.5 2869.5v14.6"/>
<text class="k" x="45.0" y="2932.0" textLength="26.0" lengthAdjust="spacingAndGlyphs">0</text><text class="k" x="240.9" y="2932.0" textLength="26.0" lengthAdjust="spacingAndGlyphs">5</text><text class="k" x="424.1" y="2932.0" textLength="51.2" lengthAdjust="spacingAndGlyphs">10</text><text class="k" x="620.0" y="2932.0" textLength="51.2" lengthAdjust="spacingAndGlyphs">15</text><text class="k" x="815.8" y="2932.0" textLength="51.2" lengthAdjust="spacingAndGlyphs">20</text><text class="k" x="1011.7" y="2932.0" textLength="51.2" lengthAdjust="spacingAndGlyphs">25</text><text class="k" x="1207.5" y="2932.0" textLength="51.2" lengthAdjust="spacingAndGlyphs">30</text><text class="k" x="1403.4" y="2932.0" textLength="51.2" lengthAdjust="spacingAndGlyphs">35</text>
</g>
</svg>
</body></html>
